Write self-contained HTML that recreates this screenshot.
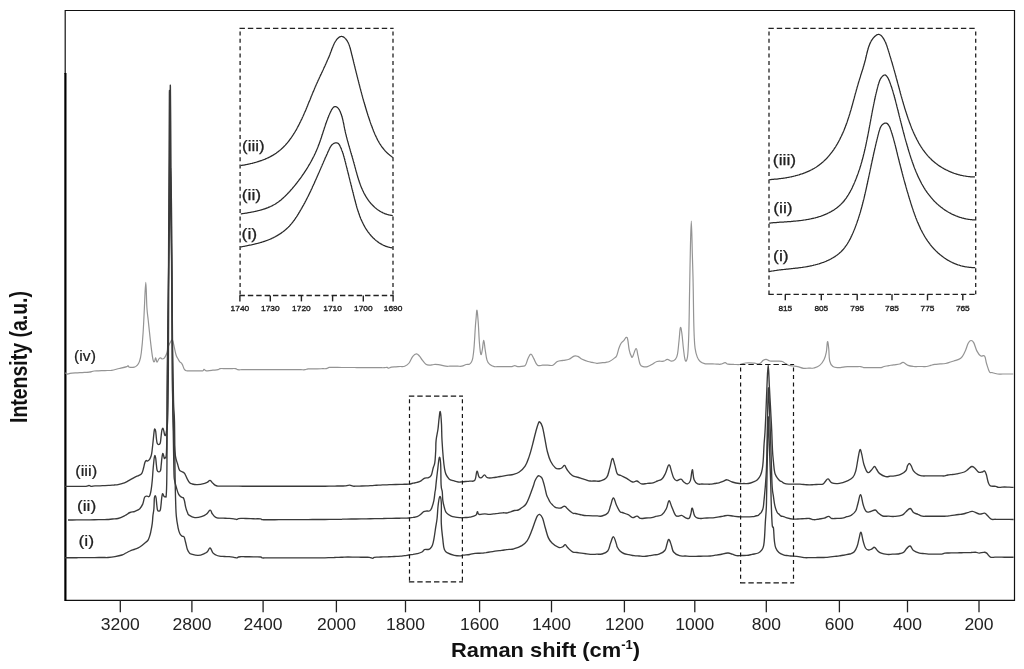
<!DOCTYPE html>
<html><head><meta charset="utf-8"><style>
html,body{margin:0;padding:0;background:#fff;width:1024px;height:669px;overflow:hidden}
svg{display:block}
svg{will-change:transform}
</style></head><body>
<svg width="1024" height="669" viewBox="0 0 1024 669">
<rect width="1024" height="669" fill="#fff"/>
<path d="M65,10.5 H1014.5 V600.4 H65" fill="none" stroke="#111" stroke-width="1.2"/>
<path d="M65.2,10 V74" stroke="#111" stroke-width="1.2"/>
<path d="M65.4,73 V601" stroke="#000" stroke-width="2.2"/>
<path d="M120.3,600 V612.3" stroke="#222" stroke-width="1.3"/>
<text x="120.3" y="629.6" text-anchor="middle" font-size="16" textLength="39.0" lengthAdjust="spacingAndGlyphs" fill="#222" font-family="Liberation Sans, sans-serif">3200</text>
<path d="M191.9,600 V612.3" stroke="#222" stroke-width="1.3"/>
<text x="191.9" y="629.6" text-anchor="middle" font-size="16" textLength="39.0" lengthAdjust="spacingAndGlyphs" fill="#222" font-family="Liberation Sans, sans-serif">2800</text>
<path d="M263.1,600 V612.3" stroke="#222" stroke-width="1.3"/>
<text x="263.1" y="629.6" text-anchor="middle" font-size="16" textLength="39.0" lengthAdjust="spacingAndGlyphs" fill="#222" font-family="Liberation Sans, sans-serif">2400</text>
<path d="M336.4,600 V612.3" stroke="#222" stroke-width="1.3"/>
<text x="336.4" y="629.6" text-anchor="middle" font-size="16" textLength="39.0" lengthAdjust="spacingAndGlyphs" fill="#222" font-family="Liberation Sans, sans-serif">2000</text>
<path d="M405.5,600 V612.3" stroke="#222" stroke-width="1.3"/>
<text x="405.5" y="629.6" text-anchor="middle" font-size="16" textLength="39.0" lengthAdjust="spacingAndGlyphs" fill="#222" font-family="Liberation Sans, sans-serif">1800</text>
<path d="M479.6,600 V612.3" stroke="#222" stroke-width="1.3"/>
<text x="479.6" y="629.6" text-anchor="middle" font-size="16" textLength="39.0" lengthAdjust="spacingAndGlyphs" fill="#222" font-family="Liberation Sans, sans-serif">1600</text>
<path d="M551.5,600 V612.3" stroke="#222" stroke-width="1.3"/>
<text x="551.5" y="629.6" text-anchor="middle" font-size="16" textLength="39.0" lengthAdjust="spacingAndGlyphs" fill="#222" font-family="Liberation Sans, sans-serif">1400</text>
<path d="M624.4,600 V612.3" stroke="#222" stroke-width="1.3"/>
<text x="624.4" y="629.6" text-anchor="middle" font-size="16" textLength="39.0" lengthAdjust="spacingAndGlyphs" fill="#222" font-family="Liberation Sans, sans-serif">1200</text>
<path d="M694.8,600 V612.3" stroke="#222" stroke-width="1.3"/>
<text x="694.8" y="629.6" text-anchor="middle" font-size="16" textLength="39.0" lengthAdjust="spacingAndGlyphs" fill="#222" font-family="Liberation Sans, sans-serif">1000</text>
<path d="M766.3,600 V612.3" stroke="#222" stroke-width="1.3"/>
<text x="766.3" y="629.6" text-anchor="middle" font-size="16" textLength="29.2" lengthAdjust="spacingAndGlyphs" fill="#222" font-family="Liberation Sans, sans-serif">800</text>
<path d="M839.4,600 V612.3" stroke="#222" stroke-width="1.3"/>
<text x="839.4" y="629.6" text-anchor="middle" font-size="16" textLength="29.2" lengthAdjust="spacingAndGlyphs" fill="#222" font-family="Liberation Sans, sans-serif">600</text>
<path d="M907.5,600 V612.3" stroke="#222" stroke-width="1.3"/>
<text x="907.5" y="629.6" text-anchor="middle" font-size="16" textLength="29.2" lengthAdjust="spacingAndGlyphs" fill="#222" font-family="Liberation Sans, sans-serif">400</text>
<path d="M979,600 V612.3" stroke="#222" stroke-width="1.3"/>
<text x="979" y="629.6" text-anchor="middle" font-size="16" textLength="29.2" lengthAdjust="spacingAndGlyphs" fill="#222" font-family="Liberation Sans, sans-serif">200</text>
<text x="451" y="656.7" font-size="20.2" font-weight="bold" fill="#111" font-family="Liberation Sans, sans-serif" textLength="189" lengthAdjust="spacingAndGlyphs">Raman shift (cm<tspan dy="-7.5" font-size="12">-1</tspan><tspan dy="7.5">)</tspan></text>
<text transform="translate(27,357) rotate(-90)" x="0" y="0" text-anchor="middle" font-size="23.5" font-weight="bold" fill="#111" textLength="132" lengthAdjust="spacingAndGlyphs" font-family="Liberation Sans, sans-serif">Intensity (a.u.)</text>
<text x="85" y="360.6" text-anchor="middle" font-size="13.9" fill="#222" stroke="#222" stroke-width="0.2" textLength="21.8" lengthAdjust="spacingAndGlyphs" font-family="Liberation Sans, sans-serif">(iv)</text>
<text x="86.2" y="475.5" text-anchor="middle" font-size="13.9" fill="#222" stroke="#222" stroke-width="0.2" textLength="22.0" lengthAdjust="spacingAndGlyphs" font-family="Liberation Sans, sans-serif">(iii)</text>
<text x="86.6" y="510.8" text-anchor="middle" font-size="13.9" fill="#222" stroke="#222" stroke-width="0.2" textLength="19.4" lengthAdjust="spacingAndGlyphs" font-family="Liberation Sans, sans-serif">(ii)</text>
<text x="86.3" y="545.9" text-anchor="middle" font-size="13.9" fill="#222" stroke="#222" stroke-width="0.2" textLength="15.8" lengthAdjust="spacingAndGlyphs" font-family="Liberation Sans, sans-serif">(i)</text>
<path d="M65.3,372.9 C65.8,373.1 66.9,374.0 67.8,374.1 C68.7,374.2 68.5,373.5 70.0,373.3 C71.5,373.1 73.3,373.0 75.3,372.9 C77.3,372.8 78.1,372.8 79.9,372.7 C81.7,372.6 82.7,372.5 84.5,372.4 C86.3,372.3 87.2,372.5 89.1,372.2 C91.0,371.9 92.2,371.3 94.1,371.0 C96.0,370.7 96.7,370.9 98.5,370.8 C100.3,370.8 101.1,370.7 102.9,370.6 C104.7,370.6 105.5,370.5 107.3,370.5 C109.1,370.4 109.3,370.7 111.7,370.3 C114.1,369.9 116.3,369.2 119.3,368.5 C122.3,367.8 125.1,367.2 126.8,366.6 C128.5,366.0 127.5,365.5 128.0,365.6 C128.5,365.7 128.0,366.9 129.3,367.2 C130.6,367.5 132.8,367.5 134.3,367.2 C135.8,366.9 136.0,366.6 137.0,365.5 C138.0,364.4 138.5,364.1 139.4,361.6 C140.3,359.1 140.6,358.6 141.3,352.8 C142.0,347.0 142.5,341.8 143.1,332.7 C143.7,323.6 143.9,317.6 144.4,307.5 C144.9,297.4 145.3,282.4 145.8,282.4 C146.3,282.4 146.4,300.0 146.9,307.5 C147.4,315.0 147.7,315.2 148.2,320.0 C148.7,324.8 148.7,324.8 149.4,331.4 C150.1,338.0 151.1,347.0 151.9,352.8 C152.7,358.6 152.7,358.5 153.2,360.3 C153.7,362.1 154.0,362.1 154.5,361.6 C155.0,361.1 155.2,357.7 155.7,357.8 C156.2,357.9 156.4,362.0 157.0,362.2 C157.6,362.4 158.1,359.9 158.8,359.0 C159.5,358.1 160.1,357.8 160.7,357.8 C161.3,357.8 161.2,359.0 162.0,359.0 C162.8,359.0 163.5,359.0 164.5,357.8 C165.5,356.6 166.2,355.1 167.0,352.8 C167.8,350.5 167.5,348.8 168.3,346.5 C169.1,344.2 170.0,342.8 170.8,341.5 C171.6,340.2 171.7,339.6 172.2,339.8 C172.7,340.0 172.6,339.9 173.3,342.7 C174.0,345.5 175.0,350.9 175.8,354.0 C176.6,357.1 176.7,356.5 177.5,358.0 C178.3,359.5 178.7,360.4 179.6,361.6 C180.5,362.8 181.1,362.5 182.1,364.1 C183.1,365.7 183.6,368.4 184.6,369.7 C185.6,371.0 185.7,370.6 187.2,370.8 C188.7,371.0 190.3,370.8 192.3,370.8 C194.4,370.8 195.4,370.8 197.5,370.8 C199.5,370.8 201.3,371.1 202.6,370.8 C203.9,370.5 203.4,369.4 204.0,369.3 C204.6,369.2 204.8,370.2 205.5,370.5 C206.2,370.8 206.2,370.9 207.7,370.8 C209.2,370.8 210.8,370.5 212.8,370.2 C214.9,370.0 216.5,370.0 218.0,369.7 C219.5,369.4 218.7,368.8 220.2,368.6 C221.7,368.4 223.3,368.6 225.3,368.6 C227.3,368.6 228.4,368.6 230.4,368.6 C232.4,368.6 234.0,368.4 235.5,368.6 C237.0,368.8 236.4,369.5 237.7,369.7 C239.0,369.9 240.2,369.7 241.9,369.7 C243.6,369.7 244.4,369.7 246.1,369.7 C247.8,369.7 248.7,369.7 250.3,369.7 C252.0,369.7 252.9,369.7 254.6,369.7 C256.2,369.7 257.1,369.7 258.8,369.7 C260.4,369.7 261.3,369.7 263.0,369.7 C264.7,369.7 265.5,369.7 267.2,369.7 C268.9,369.7 269.7,369.7 271.4,369.7 C273.1,369.7 273.9,369.7 275.6,369.7 C277.3,369.7 278.1,369.7 279.8,369.7 C281.5,369.7 282.4,369.7 284.0,369.7 C285.7,369.7 286.6,369.7 288.2,369.7 C289.9,369.7 290.8,369.7 292.5,369.7 C294.1,369.7 295.0,369.7 296.7,369.7 C298.4,369.7 299.2,369.7 300.9,369.7 C302.6,369.7 303.7,369.9 305.1,369.7 C306.5,369.5 306.5,369.1 308.0,368.9 C309.5,368.7 310.7,368.9 312.6,368.8 C314.4,368.8 315.3,368.8 317.1,368.8 C319.0,368.7 319.9,368.7 321.7,368.7 C323.6,368.6 324.8,368.9 326.3,368.6 C327.8,368.3 327.9,367.6 329.3,367.4 C330.7,367.2 331.8,367.4 333.5,367.4 C335.2,367.4 336.1,367.4 337.7,367.4 C339.4,367.5 340.3,367.5 342.0,367.5 C343.7,367.5 344.5,367.5 346.2,367.5 C347.9,367.5 348.7,367.5 350.4,367.5 C352.1,367.5 352.9,367.5 354.6,367.5 C356.3,367.5 357.2,367.6 358.9,367.6 C360.6,367.6 361.4,367.6 363.1,367.6 C364.8,367.6 365.6,367.6 367.3,367.6 C369.0,367.6 369.8,367.6 371.5,367.6 C373.2,367.6 374.1,367.6 375.8,367.7 C377.4,367.7 378.3,367.7 380.0,367.7 C381.7,367.7 382.8,367.8 384.2,367.7 C385.6,367.6 386.2,367.3 387.1,367.4 C388.0,367.5 387.7,368.2 388.6,368.1 C389.5,368.0 390.0,367.4 391.5,367.1 C393.0,366.8 394.1,366.9 395.9,366.8 C397.7,366.7 398.5,366.6 400.3,366.5 C402.1,366.4 402.9,366.9 404.7,366.2 C406.5,365.5 407.5,365.0 409.1,363.0 C410.7,361.0 411.3,358.2 412.8,356.4 C414.3,354.6 415.1,354.0 416.4,353.9 C417.7,353.8 418.2,354.8 419.4,356.0 C420.6,357.2 421.0,358.5 422.3,360.1 C423.6,361.7 424.4,363.2 425.9,364.2 C427.4,365.2 428.0,365.1 429.6,365.2 C431.2,365.3 432.2,364.6 434.0,364.5 C435.8,364.4 436.1,364.4 438.4,364.7 C440.7,365.0 443.4,365.9 445.7,366.2 C448.0,366.5 448.1,366.2 449.7,366.2 C451.3,366.2 452.1,366.2 453.8,366.2 C455.4,366.2 456.2,366.2 457.8,366.2 C459.4,366.2 460.1,366.5 461.8,366.2 C463.5,365.9 464.7,364.9 466.2,364.5 C467.7,364.1 468.4,364.6 469.4,364.2 C470.4,363.8 470.6,363.6 471.3,362.3 C472.0,361.0 472.3,360.8 472.8,357.9 C473.3,355.0 473.5,354.0 474.0,348.0 C474.5,342.0 474.9,333.8 475.3,327.8 C475.7,321.8 475.8,321.5 476.1,318.0 C476.4,314.5 476.6,309.5 477.0,310.3 C477.4,311.1 477.7,315.6 478.2,322.0 C478.7,328.4 478.9,336.1 479.4,342.5 C479.9,348.9 480.2,352.7 480.8,354.2 C481.4,355.7 481.7,352.6 482.3,349.8 C482.9,347.0 483.1,340.3 483.7,340.3 C484.3,340.3 484.5,345.8 485.2,349.8 C485.9,353.8 486.1,357.2 487.0,360.1 C487.9,363.0 488.4,363.2 489.9,364.5 C491.4,365.8 492.5,366.2 494.3,366.6 C496.1,367.0 496.9,366.6 498.7,366.6 C500.5,366.6 501.3,366.6 503.1,366.6 C504.9,366.6 505.7,366.6 507.5,366.6 C509.3,366.6 510.4,366.8 511.9,366.6 C513.4,366.4 513.6,365.6 514.8,365.6 C516.0,365.6 515.9,366.5 517.7,366.6 C519.5,366.7 522.0,366.6 523.6,366.2 C525.2,365.8 524.9,366.0 525.8,364.5 C526.7,363.0 527.0,360.7 528.0,358.6 C529.0,356.5 529.7,354.2 530.9,354.2 C532.1,354.2 532.5,356.4 533.8,358.6 C535.1,360.8 535.7,363.9 537.5,365.2 C539.3,366.5 540.6,365.2 542.6,365.2 C544.7,365.2 545.7,365.2 547.8,365.2 C549.8,365.2 551.0,365.9 552.9,365.2 C554.8,364.5 555.3,362.5 557.3,361.5 C559.3,360.5 560.8,360.7 563.1,360.3 C565.4,359.9 566.8,360.1 569.0,359.3 C571.2,358.5 572.3,356.7 574.1,356.1 C575.9,355.5 576.2,355.8 577.8,356.4 C579.4,357.0 580.2,358.3 582.2,359.3 C584.2,360.3 586.0,360.9 588.0,361.5 C590.0,362.1 590.6,362.0 592.4,362.4 C594.2,362.8 594.7,363.2 596.8,363.3 C598.9,363.4 600.9,362.9 602.7,362.7 C604.5,362.5 604.7,362.5 606.0,362.3 C607.3,362.1 607.8,362.2 609.4,361.5 C611.0,360.8 612.3,359.8 613.8,358.6 C615.3,357.4 615.7,357.8 616.7,355.7 C617.7,353.6 618.0,350.8 618.9,348.3 C619.8,345.8 620.1,344.8 621.1,343.2 C622.1,341.6 623.0,341.5 624.0,340.3 C625.0,339.1 625.5,337.6 626.2,337.4 C626.9,337.2 627.1,337.0 627.7,339.5 C628.3,342.0 628.5,346.4 629.2,349.8 C629.9,353.2 630.7,355.1 631.4,356.4 C632.1,357.7 631.9,358.0 632.8,356.4 C633.7,354.8 635.1,348.7 636.1,348.6 C637.1,348.5 637.2,352.5 638.0,355.7 C638.8,358.9 639.2,362.3 640.2,364.5 C641.2,366.7 641.6,366.2 643.1,366.6 C644.6,367.0 645.7,367.0 647.5,366.6 C649.3,366.2 650.0,365.5 651.9,364.5 C653.8,363.5 654.7,362.2 657.0,361.5 C659.3,360.8 661.5,361.6 663.6,361.2 C665.7,360.8 665.7,359.3 667.3,359.3 C668.9,359.3 670.0,361.2 671.6,361.2 C673.2,361.2 674.1,360.7 675.3,359.3 C676.5,357.9 676.8,357.9 677.5,354.2 C678.2,350.5 678.4,346.3 679.0,341.0 C679.6,335.7 679.8,329.3 680.4,327.8 C681.0,326.3 681.3,329.6 681.9,333.7 C682.5,337.8 682.8,343.3 683.4,348.3 C684.0,353.3 684.2,356.1 684.8,358.6 C685.4,361.1 685.7,361.7 686.3,360.8 C686.9,359.9 687.3,359.6 687.8,354.2 C688.3,348.8 688.4,346.5 688.8,333.7 C689.2,320.9 689.3,306.1 689.6,290.0 C689.9,273.9 690.0,266.8 690.3,253.0 C690.6,239.2 690.9,221.0 691.3,221.0 C691.7,221.0 692.0,241.8 692.3,253.0 C692.6,264.2 692.7,264.8 693.0,277.0 C693.3,289.2 693.4,302.2 693.6,314.0 C693.8,325.8 693.9,329.1 694.2,336.0 C694.5,342.9 694.5,344.1 695.1,348.3 C695.7,352.5 696.3,354.5 697.3,357.1 C698.3,359.7 698.7,360.2 700.2,361.5 C701.7,362.8 702.9,363.2 704.6,363.7 C706.3,364.2 707.0,363.8 708.6,363.8 C710.2,363.9 711.0,363.9 712.7,363.9 C714.3,364.0 715.1,364.0 716.7,364.1 C718.3,364.1 719.0,364.5 720.7,364.2 C722.4,363.9 723.6,362.7 725.1,362.7 C726.6,362.7 726.2,363.9 728.0,364.2 C729.8,364.5 731.5,364.3 733.9,364.4 C736.3,364.4 737.5,364.8 739.8,364.5 C742.1,364.2 743.7,363.3 745.6,363.0 C747.5,362.7 747.6,362.8 749.4,362.8 C751.2,362.8 752.5,363.0 754.5,363.2 C756.5,363.4 757.8,364.2 759.6,363.6 C761.4,363.0 762.0,361.2 763.3,360.3 C764.6,359.4 764.9,359.2 766.2,359.3 C767.5,359.4 768.0,360.6 769.9,361.0 C771.8,361.4 773.4,361.1 775.8,361.1 C778.1,361.2 779.6,360.8 781.6,361.3 C783.6,361.9 784.5,363.1 786.0,363.9 C787.5,364.7 787.4,365.0 788.9,365.4 C790.4,365.8 791.5,365.8 793.3,366.0 C795.1,366.2 795.6,366.1 797.7,366.6 C799.8,367.1 801.4,368.0 803.6,368.3 C805.8,368.6 806.7,368.2 808.7,368.1 C810.7,368.1 811.6,368.6 813.8,368.0 C816.0,367.4 817.6,367.1 819.7,365.4 C821.8,363.7 822.8,362.1 824.1,359.5 C825.4,356.9 825.6,355.8 826.3,352.2 C827.0,348.6 827.0,342.3 827.5,341.7 C828.0,341.1 828.4,345.4 828.8,349.3 C829.2,353.2 828.9,357.5 829.7,361.0 C830.5,364.5 831.1,365.3 832.9,366.6 C834.7,367.9 836.7,367.5 838.7,367.6 C840.7,367.7 841.3,367.3 843.1,367.1 C844.9,366.9 845.7,366.7 847.5,366.6 C849.3,366.5 850.1,366.6 851.9,366.6 C853.7,366.6 854.5,366.6 856.3,366.6 C858.1,366.6 859.2,366.4 860.7,366.6 C862.2,366.8 862.1,367.4 863.6,367.6 C865.1,367.8 866.2,367.6 868.0,367.6 C869.8,367.6 870.6,367.6 872.4,367.6 C874.2,367.6 875.0,367.6 876.8,367.6 C878.6,367.6 879.7,367.8 881.2,367.6 C882.7,367.4 882.6,366.9 884.1,366.5 C885.6,366.1 887.0,366.0 888.9,365.6 C890.8,365.3 891.5,365.1 893.7,364.8 C895.9,364.5 897.9,364.5 899.8,364.0 C901.7,363.5 901.6,362.1 903.2,362.4 C904.8,362.7 905.9,364.6 908.0,365.4 C910.1,366.2 911.5,366.3 913.5,366.5 C915.5,366.7 916.1,366.5 917.8,366.5 C919.6,366.5 920.4,366.5 922.2,366.5 C923.9,366.5 924.8,366.7 926.5,366.5 C928.2,366.3 929.0,365.9 930.6,365.4 C932.2,365.0 932.8,364.7 934.7,364.4 C936.6,364.1 938.0,364.1 940.2,363.9 C942.3,363.8 943.7,363.8 945.6,363.5 C947.5,363.2 948.1,362.8 949.7,362.2 C951.3,361.8 951.6,361.8 953.8,361.0 C956.0,360.2 958.5,360.1 960.7,358.3 C962.9,356.5 963.3,355.1 964.8,352.1 C966.3,349.1 967.0,345.5 968.2,343.2 C969.4,340.9 969.8,340.6 970.9,340.5 C972.0,340.4 972.5,340.4 973.7,342.6 C974.9,344.8 975.7,348.8 977.1,351.4 C978.5,354.0 979.0,354.8 980.5,355.8 C982.0,356.8 983.4,354.6 984.6,356.2 C985.8,357.8 985.6,360.7 986.6,363.8 C987.6,366.9 988.3,369.9 989.4,371.7 C990.5,373.5 990.5,372.1 992.1,372.6 C993.7,373.1 995.5,373.7 997.6,374.0 C999.7,374.3 1000.7,374.0 1002.8,374.0 C1004.9,374.0 1006.0,374.0 1008.1,374.0 C1010.2,374.0 1012.3,374.0 1013.3,374.0" fill="none" stroke="#949494" stroke-width="1.2" stroke-linejoin="round"/>
<path d="M65.0,557.7 C65.8,557.7 67.5,557.7 69.2,557.7 C70.8,557.7 71.7,557.7 73.3,557.7 C75.0,557.7 75.8,557.7 77.5,557.7 C79.2,557.6 80.0,557.6 81.7,557.6 C83.3,557.6 84.2,557.6 85.8,557.6 C87.5,557.6 88.3,557.6 90.0,557.6 C91.7,557.6 92.7,557.6 94.5,557.6 C96.3,557.6 97.2,557.6 99.0,557.5 C100.8,557.5 101.7,557.5 103.5,557.5 C105.3,557.5 105.7,557.7 108.0,557.5 C110.3,557.3 112.2,557.1 115.0,556.6 C117.8,556.1 119.8,555.7 122.0,555.0 C124.2,554.3 124.4,553.8 126.0,553.0 C127.6,552.2 128.2,551.8 130.0,551.0 C131.8,550.2 133.0,549.9 135.0,549.1 C137.0,548.3 137.6,548.4 139.8,547.0 C142.0,545.6 144.1,543.6 145.8,542.2 C147.5,540.8 147.4,541.2 148.2,539.8 C149.0,538.4 149.4,536.9 150.0,535.0 C150.6,533.1 150.6,532.6 151.1,530.2 C151.6,527.8 151.9,526.0 152.3,523.1 C152.7,520.2 152.6,518.8 152.9,515.9 C153.2,513.0 153.6,512.3 153.9,508.7 C154.2,505.1 154.1,500.5 154.4,497.9 C154.7,495.3 155.0,495.6 155.3,495.6 C155.6,495.6 155.8,496.1 156.1,498.0 C156.4,499.9 156.5,502.6 156.8,505.0 C157.1,507.4 157.1,508.8 157.5,510.0 C157.9,511.2 158.3,511.1 158.9,511.1 C159.5,511.1 159.9,511.2 160.3,510.0 C160.7,508.8 160.7,507.4 161.0,505.0 C161.3,502.6 161.4,500.1 161.7,498.0 C162.0,495.9 162.1,495.3 162.3,494.5 C162.5,493.7 162.5,493.6 162.8,493.8 C163.1,494.0 163.3,494.9 163.6,495.5 C163.9,496.1 163.9,496.5 164.3,496.7 C164.7,496.9 165.1,497.0 165.5,496.5 C165.9,496.0 166.0,499.3 166.3,494.0 C166.6,488.7 166.7,490.2 166.9,470.0 C167.1,449.8 166.9,432.8 167.2,393.0 C167.5,353.2 167.9,316.0 168.6,271.0 C169.3,226.0 170.1,168.0 170.8,168.0 C171.5,168.0 171.7,236.6 172.0,271.0 C172.3,305.4 172.2,314.2 172.5,340.0 C172.8,365.8 173.1,383.6 173.5,400.0 C173.9,416.4 174.2,408.0 174.5,422.0 C174.8,436.0 174.8,454.4 175.0,470.0 C175.2,485.6 175.3,490.8 175.6,500.0 C175.9,509.2 175.8,510.3 176.3,515.9 C176.8,521.5 177.4,524.2 178.1,527.8 C178.8,531.4 179.1,532.1 179.9,533.8 C180.7,535.5 181.4,535.6 182.2,536.2 C183.0,536.8 183.4,535.8 184.1,537.0 C184.8,538.2 184.8,539.5 185.5,542.0 C186.2,544.5 186.6,547.4 187.4,549.6 C188.2,551.8 188.7,552.1 189.5,553.0 C190.3,553.9 189.8,553.6 191.5,554.1 C193.2,554.6 195.5,555.5 198.1,555.4 C200.7,555.3 202.8,554.2 204.7,553.4 C206.6,552.6 206.4,552.6 207.5,551.5 C208.6,550.4 209.0,547.7 210.1,548.0 C211.2,548.3 211.7,551.5 212.9,552.9 C214.1,554.3 214.7,554.3 216.0,555.0 C217.3,555.7 217.8,555.9 219.5,556.2 C221.2,556.5 222.4,556.4 224.4,556.5 C226.4,556.6 227.4,556.5 229.3,556.7 C231.2,556.9 232.5,557.1 234.0,557.3 C235.5,557.5 235.8,558.0 236.7,557.9 C237.6,557.8 237.7,557.2 238.5,557.0 C239.3,556.8 239.6,556.8 240.9,556.7 C242.2,556.6 243.4,556.7 245.0,556.7 C246.6,556.7 247.1,556.7 249.1,556.7 C251.1,556.7 252.6,556.8 254.9,556.9 C257.2,556.9 259.1,556.8 260.6,557.0 C262.1,557.2 261.0,557.7 262.2,557.9 C263.4,558.1 264.7,557.9 266.4,557.9 C268.1,557.9 268.9,557.9 270.6,557.9 C272.2,557.9 273.1,557.9 274.8,557.9 C276.4,557.9 277.3,557.9 278.9,557.9 C280.6,557.9 281.5,557.9 283.1,557.9 C284.8,557.9 285.6,557.9 287.3,557.9 C289.0,557.9 289.8,557.9 291.5,557.9 C293.2,557.9 294.0,557.8 295.7,557.8 C297.4,557.8 298.2,557.8 299.9,557.8 C301.6,557.8 302.4,557.8 304.1,557.8 C305.7,557.8 306.6,557.8 308.3,557.8 C309.9,557.8 310.8,557.8 312.4,557.8 C314.1,557.8 315.0,557.8 316.6,557.8 C318.3,557.8 319.1,557.8 320.8,557.8 C322.5,557.8 323.2,557.8 325.0,557.8 C326.8,557.8 327.8,557.7 329.6,557.6 C331.4,557.6 332.4,557.5 334.2,557.5 C336.0,557.4 337.0,557.4 338.8,557.3 C340.6,557.3 341.6,557.2 343.4,557.2 C345.2,557.1 346.2,557.0 348.0,557.0 C349.8,557.0 350.6,557.0 352.3,557.1 C354.0,557.1 354.8,557.1 356.6,557.1 C358.3,557.1 359.1,557.2 360.8,557.2 C362.6,557.2 363.4,557.2 365.1,557.2 C366.8,557.3 367.9,557.1 369.4,557.3 C370.9,557.5 371.7,558.3 372.7,558.3 C373.7,558.3 373.1,557.5 374.3,557.3 C375.5,557.1 376.9,557.2 378.7,557.1 C380.5,557.0 381.3,557.0 383.1,556.9 C384.9,556.9 385.7,556.8 387.5,556.8 C389.3,556.7 390.1,556.6 391.9,556.6 C393.7,556.5 394.5,556.5 396.3,556.4 C398.1,556.3 399.0,556.4 400.7,556.2 C402.4,556.0 403.2,555.8 404.8,555.6 C406.4,555.4 407.3,555.2 408.9,555.0 C410.5,554.8 411.4,554.6 413.0,554.4 C414.6,554.1 415.3,554.2 417.1,553.7 C418.9,553.2 420.5,552.8 422.0,552.0 C423.5,551.2 423.3,550.1 424.5,549.6 C425.7,549.1 427.0,549.7 428.2,549.5 C429.4,549.3 429.5,549.3 430.3,548.5 C431.1,547.7 431.7,547.2 432.4,545.3 C433.1,543.4 433.3,542.4 433.9,539.1 C434.5,535.8 434.9,532.8 435.5,528.6 C436.1,524.4 436.6,522.8 437.1,518.2 C437.6,513.6 437.6,509.9 438.1,505.6 C438.6,501.3 439.1,497.3 439.7,496.7 C440.3,496.1 441.0,497.2 441.3,502.5 C441.6,507.8 441.0,516.1 441.3,523.4 C441.6,530.7 442.2,533.9 442.8,539.1 C443.4,544.3 443.3,546.7 444.4,549.5 C445.5,552.3 446.1,552.0 448.1,553.2 C450.1,554.4 451.9,554.8 454.3,555.3 C456.7,555.8 458.2,555.8 460.0,555.8 C461.8,555.8 461.3,555.5 463.2,555.2 C465.1,554.9 467.3,554.9 469.7,554.5 C472.1,554.1 472.6,553.7 475.0,553.4 C477.4,553.1 479.5,553.4 481.7,553.2 C483.9,553.0 484.3,552.8 486.1,552.6 C487.9,552.3 488.7,552.2 490.5,551.9 C492.3,551.6 493.1,551.5 494.9,551.2 C496.7,551.0 497.4,550.9 499.3,550.6 C501.2,550.4 502.2,550.2 504.2,550.0 C506.1,549.8 507.1,549.6 509.0,549.4 C511.0,549.2 511.4,549.5 513.9,548.8 C516.4,548.1 518.7,547.5 521.3,545.9 C523.9,544.3 525.1,543.7 527.1,540.8 C529.1,537.9 529.9,535.3 531.5,531.3 C533.1,527.3 534.0,524.1 535.2,521.0 C536.4,517.9 536.5,517.2 537.4,515.9 C538.3,514.6 538.6,514.0 539.6,514.4 C540.6,514.8 541.3,515.3 542.5,518.1 C543.7,520.9 544.2,524.3 545.4,528.3 C546.6,532.3 547.1,535.0 548.4,537.9 C549.7,540.8 550.0,541.1 552.0,543.0 C554.0,544.9 556.4,546.7 558.6,547.4 C560.8,548.1 561.7,547.1 563.0,546.6 C564.3,546.1 564.2,544.4 565.2,544.7 C566.2,545.0 566.6,546.7 568.1,548.1 C569.6,549.5 570.7,550.9 572.5,551.8 C574.3,552.7 575.1,552.2 576.9,552.5 C578.7,552.8 579.4,552.9 581.3,553.2 C583.2,553.5 584.4,553.6 586.5,553.8 C588.5,554.0 589.6,554.3 591.6,554.4 C593.6,554.5 594.7,554.3 596.7,554.2 C598.7,554.1 599.6,554.6 601.8,554.0 C604.0,553.4 605.9,553.2 607.7,551.0 C609.5,548.8 609.4,545.8 610.6,543.0 C611.8,540.2 612.3,536.5 613.5,536.8 C614.7,537.1 615.8,542.4 616.5,544.4 C617.2,546.4 616.5,545.6 617.2,546.9 C617.9,548.2 618.7,549.7 620.0,551.0 C621.3,552.3 622.0,552.8 623.8,553.5 C625.6,554.2 626.9,554.2 628.9,554.6 C630.9,555.0 632.0,555.4 634.0,555.7 C636.0,556.0 637.1,555.9 639.1,556.0 C641.2,556.2 642.3,556.5 644.3,556.4 C646.3,556.3 647.2,556.0 649.2,555.7 C651.1,555.4 652.1,555.2 654.0,554.9 C656.0,554.6 656.7,555.1 658.9,554.2 C661.1,553.3 663.2,552.6 664.8,550.5 C666.4,548.4 666.2,546.1 667.0,543.9 C667.8,541.7 668.0,539.2 668.9,539.5 C669.8,539.8 670.5,542.9 671.4,545.4 C672.3,547.9 672.0,549.9 673.6,552.0 C675.2,554.1 677.1,554.9 679.5,555.7 C681.9,556.5 683.0,555.9 685.4,556.0 C687.7,556.2 689.1,556.4 691.2,556.4 C693.3,556.4 694.1,556.3 696.0,556.3 C697.9,556.3 698.8,556.2 700.7,556.2 C702.6,556.2 703.6,556.1 705.5,556.1 C707.4,556.1 708.2,556.2 710.2,556.0 C712.2,555.8 713.3,555.5 715.4,555.2 C717.4,555.0 718.0,555.0 720.5,554.5 C723.0,554.0 725.5,553.1 727.8,553.0 C730.1,552.9 730.4,553.7 732.2,554.2 C734.0,554.7 734.7,555.4 736.6,555.7 C738.5,556.0 739.7,555.6 741.7,555.5 C743.7,555.5 744.7,555.6 746.8,555.4 C748.9,555.2 749.7,554.9 752.0,554.4 C754.3,553.9 756.3,553.9 758.3,553.0 C760.3,552.1 760.8,551.4 761.9,549.9 C763.0,548.4 763.2,548.1 763.7,545.4 C764.2,542.7 764.3,540.9 764.6,536.4 C764.9,531.9 765.0,528.3 765.3,523.0 C765.6,517.7 765.9,515.4 766.2,510.0 C766.5,504.6 766.4,506.0 766.6,496.0 C766.8,486.0 767.0,475.8 767.3,460.0 C767.6,444.2 767.9,419.0 768.3,417.0 C768.7,415.0 769.0,437.4 769.5,450.0 C770.0,462.6 770.2,469.0 770.6,480.0 C771.0,491.0 771.0,496.1 771.3,505.0 C771.6,513.9 771.8,520.0 772.2,524.7 C772.6,529.4 773.1,525.1 773.5,528.3 C773.9,531.5 773.9,536.9 774.4,540.9 C774.9,544.9 774.9,545.8 775.8,548.1 C776.7,550.4 777.4,551.3 778.9,552.6 C780.4,553.9 781.6,554.2 783.4,554.8 C785.2,555.4 786.1,555.4 788.0,555.7 C789.9,556.0 790.7,555.9 793.1,556.1 C795.5,556.3 797.6,556.5 800.0,556.8 C802.4,557.1 803.2,557.5 805.0,557.7 C806.8,557.9 807.5,557.7 809.2,557.6 C810.9,557.6 811.7,557.6 813.4,557.6 C815.0,557.6 815.9,557.5 817.5,557.5 C819.2,557.5 820.0,557.5 821.7,557.5 C823.4,557.4 824.2,557.5 825.9,557.4 C827.6,557.3 828.6,557.1 830.4,556.9 C832.2,556.7 833.0,556.6 834.8,556.4 C836.6,556.2 837.4,556.2 839.3,555.9 C841.2,555.6 842.4,555.3 844.5,555.0 C846.6,554.6 847.8,554.6 849.8,554.0 C851.8,553.4 852.8,553.3 854.3,551.7 C855.8,550.1 856.3,548.5 857.3,545.8 C858.3,543.1 858.4,541.0 859.1,538.3 C859.8,535.6 860.2,531.7 861.0,532.3 C861.8,532.9 862.3,538.2 863.2,541.3 C864.1,544.4 864.4,546.3 865.5,548.0 C866.6,549.7 867.3,549.8 868.5,550.0 C869.7,550.2 870.3,549.6 871.5,549.1 C872.7,548.6 873.3,547.0 874.5,547.3 C875.7,547.6 876.1,549.4 877.4,550.6 C878.7,551.8 879.2,552.4 881.2,553.2 C883.2,554.0 885.0,554.2 887.2,554.4 C889.4,554.6 890.3,554.3 892.4,554.2 C894.5,554.1 896.1,554.1 897.6,554.0 C899.1,553.9 898.8,553.8 900.0,553.5 C901.2,553.2 902.4,553.3 903.7,552.3 C905.0,551.3 905.4,549.9 906.7,548.6 C908.0,547.3 908.8,545.6 910.2,546.0 C911.6,546.4 911.7,549.1 913.5,550.5 C915.3,551.9 917.2,552.5 919.4,553.1 C921.6,553.7 922.5,553.4 924.6,553.6 C926.8,553.8 928.0,554.0 929.9,554.1 C931.8,554.2 932.3,554.1 933.9,554.1 C935.5,554.1 936.3,554.1 937.9,554.1 C939.5,554.1 940.5,554.3 941.9,554.1 C943.3,553.9 943.4,553.3 944.8,553.1 C946.2,552.9 947.3,553.0 949.0,553.0 C950.7,553.0 951.5,552.9 953.2,552.9 C954.9,552.9 955.7,552.8 957.4,552.8 C959.1,552.8 959.9,552.7 961.6,552.7 C963.3,552.7 963.9,552.6 965.8,552.6 C967.7,552.6 968.9,552.5 971.0,552.5 C973.1,552.4 974.6,552.2 976.2,552.3 C977.8,552.4 977.7,553.1 979.2,553.1 C980.7,553.1 982.2,552.3 983.7,552.3 C985.2,552.3 985.4,552.1 986.7,553.1 C988.0,554.1 988.7,556.3 990.4,557.1 C992.1,557.9 993.2,557.1 995.0,557.1 C996.9,557.1 997.8,557.1 999.7,557.1 C1001.5,557.1 1002.5,557.2 1004.3,557.2 C1006.2,557.2 1007.1,557.2 1009.0,557.2 C1010.8,557.2 1012.7,557.2 1013.6,557.2" fill="none" stroke="#3a3a3a" stroke-width="1.35" stroke-linejoin="round"/>
<path d="M68.0,520.0 C68.9,520.0 70.6,520.0 72.4,520.0 C74.2,519.9 75.0,519.9 76.8,519.9 C78.6,519.9 79.4,519.9 81.2,519.9 C83.0,519.9 83.8,519.9 85.6,519.8 C87.4,519.8 88.3,519.8 90.0,519.8 C91.7,519.8 92.5,519.8 94.2,519.7 C96.0,519.7 96.8,519.7 98.5,519.6 C100.2,519.6 101.0,519.6 102.8,519.6 C104.5,519.5 105.0,519.6 107.0,519.5 C109.0,519.4 110.3,519.2 112.5,519.0 C114.7,518.8 115.5,519.2 118.0,518.5 C120.5,517.8 122.6,516.7 125.0,515.5 C127.4,514.3 128.0,513.3 130.0,512.5 C132.0,511.7 133.0,512.1 135.0,511.3 C137.0,510.5 138.2,510.2 139.8,508.7 C141.4,507.2 141.8,506.2 142.8,503.9 C143.8,501.6 143.8,498.9 144.6,497.3 C145.4,495.7 146.2,496.2 147.0,496.1 C147.8,496.0 148.2,496.9 148.8,496.7 C149.4,496.5 149.5,496.3 150.0,495.0 C150.5,493.7 150.6,493.2 151.1,490.2 C151.6,487.2 151.9,484.4 152.3,480.0 C152.7,475.6 152.8,472.4 153.2,468.0 C153.6,463.6 153.9,460.5 154.2,458.0 C154.5,455.5 154.6,455.5 154.9,455.5 C155.2,455.5 155.4,456.1 155.7,458.0 C156.0,459.9 156.1,462.5 156.4,465.0 C156.7,467.5 156.7,469.1 157.2,470.5 C157.7,471.9 158.2,471.8 158.9,471.8 C159.6,471.8 160.0,471.9 160.5,470.5 C161.0,469.1 160.9,467.5 161.2,465.0 C161.5,462.5 161.6,460.1 161.9,458.0 C162.2,455.9 162.3,455.4 162.5,454.5 C162.7,453.6 162.7,453.2 162.9,453.4 C163.1,453.6 163.3,454.5 163.6,455.5 C163.9,456.5 164.0,458.0 164.3,458.4 C164.6,458.8 164.8,458.0 165.2,457.5 C165.6,457.0 165.9,459.5 166.2,456.0 C166.5,452.5 166.6,452.6 166.8,440.0 C167.0,427.4 166.9,426.8 167.2,393.0 C167.5,359.2 168.1,331.2 168.5,271.0 C168.9,210.8 169.0,106.2 169.4,92.0 C169.8,77.8 170.0,164.2 170.5,200.0 C171.0,235.8 171.4,235.0 171.8,271.0 C172.2,307.0 172.2,348.2 172.5,380.0 C172.8,411.8 172.9,412.0 173.2,430.0 C173.5,448.0 173.6,460.0 173.9,470.0 C174.2,480.0 174.0,476.6 174.5,480.0 C175.0,483.4 175.5,484.3 176.3,487.2 C177.1,490.1 177.6,492.4 178.7,494.4 C179.8,496.4 180.8,496.6 181.7,497.3 C182.6,498.0 182.7,497.1 183.3,497.8 C183.9,498.5 184.0,499.0 184.5,501.0 C185.0,503.0 185.2,505.4 185.8,507.7 C186.4,510.0 186.9,511.0 187.5,512.5 C188.1,514.0 187.5,514.1 189.0,515.1 C190.5,516.1 192.3,517.3 194.8,517.6 C197.3,517.9 199.1,517.4 201.4,516.7 C203.7,516.0 204.6,515.6 206.3,514.3 C208.0,513.0 208.9,510.4 210.1,510.2 C211.3,510.0 211.2,512.2 212.1,513.5 C213.0,514.8 213.5,515.6 214.5,516.5 C215.5,517.4 215.7,517.6 217.0,517.9 C218.3,518.2 219.5,518.0 221.1,518.1 C222.7,518.1 223.6,518.2 225.2,518.2 C226.8,518.3 227.5,518.3 229.3,518.4 C231.1,518.5 232.5,518.6 234.0,518.8 C235.5,519.0 235.8,519.5 236.7,519.5 C237.6,519.5 237.7,518.8 238.5,518.6 C239.3,518.4 239.4,518.4 240.9,518.4 C242.4,518.4 243.9,518.5 245.8,518.5 C247.8,518.6 248.8,518.6 250.8,518.6 C252.7,518.7 253.7,518.7 255.7,518.8 C257.6,518.8 259.3,518.7 260.6,518.9 C261.9,519.1 261.0,519.5 262.2,519.7 C263.4,519.9 264.7,519.7 266.4,519.7 C268.1,519.7 268.9,519.7 270.6,519.7 C272.2,519.7 273.1,519.7 274.8,519.7 C276.4,519.7 277.3,519.7 278.9,519.6 C280.6,519.6 281.5,519.6 283.1,519.6 C284.8,519.6 285.6,519.6 287.3,519.6 C289.0,519.6 289.8,519.6 291.5,519.6 C293.2,519.6 294.0,519.6 295.7,519.6 C297.4,519.6 298.2,519.6 299.9,519.6 C301.6,519.6 302.4,519.6 304.1,519.6 C305.7,519.6 306.6,519.6 308.3,519.6 C309.9,519.5 310.8,519.5 312.4,519.5 C314.1,519.5 315.0,519.5 316.6,519.5 C318.3,519.5 319.1,519.5 320.8,519.5 C322.5,519.5 323.3,519.5 325.0,519.5 C326.7,519.5 327.6,519.5 329.3,519.4 C331.0,519.4 331.8,519.4 333.6,519.3 C335.3,519.3 336.1,519.3 337.8,519.3 C339.6,519.2 340.4,519.2 342.1,519.2 C343.8,519.1 344.6,519.1 346.4,519.1 C348.2,519.1 349.4,519.1 351.3,519.0 C353.3,519.0 354.3,519.0 356.2,519.0 C358.2,518.9 359.2,518.9 361.2,518.9 C363.1,518.8 364.3,518.8 366.1,518.8 C367.9,518.8 368.7,518.8 370.4,518.7 C372.1,518.7 372.9,518.7 374.7,518.6 C376.4,518.6 377.2,518.6 378.9,518.6 C380.7,518.5 381.5,518.5 383.2,518.5 C384.9,518.4 385.8,518.4 387.5,518.4 C389.2,518.4 390.1,518.4 391.8,518.3 C393.5,518.3 394.3,518.3 396.1,518.2 C397.8,518.2 398.6,518.2 400.3,518.2 C402.1,518.1 402.9,518.1 404.6,518.1 C406.3,518.0 407.2,518.1 408.9,518.0 C410.6,517.9 411.4,517.6 413.0,517.4 C414.6,517.1 415.6,517.3 417.1,516.7 C418.6,516.1 419.2,515.5 420.5,514.5 C421.8,513.5 422.4,512.4 423.7,511.7 C425.0,511.0 425.8,511.2 427.0,511.0 C428.2,510.8 428.8,511.5 429.8,510.8 C430.8,510.1 431.0,509.8 431.8,507.7 C432.6,505.6 433.3,503.5 433.9,500.4 C434.5,497.3 434.7,494.2 435.0,492.0 C435.3,489.8 435.2,492.1 435.5,489.4 C435.8,486.7 436.1,482.9 436.6,478.6 C437.1,474.3 437.4,472.0 437.9,467.8 C438.4,463.6 438.8,458.4 439.3,457.5 C439.8,456.6 440.2,457.8 440.6,463.3 C441.0,468.8 440.8,479.2 441.1,484.9 C441.4,490.6 442.0,488.9 442.3,492.0 C442.6,495.1 442.4,497.3 442.8,500.4 C443.2,503.5 443.7,505.2 444.4,507.7 C445.1,510.2 445.1,511.2 446.5,512.9 C447.9,514.6 449.4,515.3 451.2,516.1 C453.0,516.9 453.6,516.8 455.4,517.1 C457.2,517.4 458.8,517.5 460.0,517.6 C461.2,517.7 460.4,517.8 461.5,517.8 C462.6,517.8 464.0,517.6 465.6,517.5 C467.2,517.4 467.7,517.6 469.7,517.2 C471.7,516.8 474.3,516.4 475.8,515.3 C477.3,514.2 476.8,511.8 477.4,511.6 C478.0,511.4 477.5,514.0 479.0,514.4 C480.5,514.8 482.8,513.8 484.8,513.8 C486.8,513.8 487.2,514.4 489.0,514.4 C490.8,514.4 491.8,514.1 493.6,513.9 C495.5,513.7 496.4,513.5 498.3,513.3 C500.1,513.1 501.2,512.9 502.9,512.8 C504.6,512.7 505.1,513.2 506.6,513.0 C508.1,512.8 508.9,512.2 510.5,511.8 C512.1,511.2 512.8,510.9 514.4,510.5 C516.0,510.1 516.8,510.6 518.3,510.0 C519.8,509.4 520.5,508.6 522.0,507.5 C523.5,506.4 524.4,506.2 525.7,504.5 C527.0,502.8 527.3,501.8 528.5,499.0 C529.7,496.2 530.7,493.3 531.7,490.6 C532.7,487.9 532.8,487.5 533.5,485.5 C534.2,483.5 534.2,482.5 535.0,480.7 C535.8,478.9 536.6,477.6 537.4,476.6 C538.2,475.6 538.4,475.7 539.1,475.8 C539.8,475.9 540.3,476.3 541.0,477.0 C541.7,477.7 541.6,477.0 542.4,479.1 C543.2,481.2 544.0,484.2 544.8,487.3 C545.6,490.4 545.8,492.3 546.5,494.6 C547.2,496.9 547.8,497.5 548.5,499.0 C549.2,500.5 549.3,500.9 550.0,502.0 C550.7,503.1 551.2,503.6 552.2,504.6 C553.2,505.6 553.9,506.4 555.0,507.1 C556.1,507.8 556.3,507.7 557.5,507.9 C558.7,508.1 559.8,508.3 561.0,508.0 C562.2,507.7 562.8,506.6 563.7,506.3 C564.6,506.0 564.7,506.1 565.5,506.6 C566.3,507.1 566.1,507.5 567.5,508.8 C568.9,510.1 570.9,512.1 572.5,513.0 C574.1,513.9 573.8,513.2 575.3,513.5 C576.8,513.8 578.0,514.1 579.8,514.5 C581.6,514.9 582.6,515.3 584.3,515.5 C586.0,515.7 586.7,515.6 588.4,515.7 C590.1,515.8 591.1,515.8 592.8,515.8 C594.6,515.8 595.5,515.9 597.3,515.9 C599.0,515.9 599.6,516.6 601.7,516.0 C603.8,515.4 606.0,515.1 607.8,513.0 C609.6,510.9 609.5,508.4 610.6,505.4 C611.7,502.4 612.2,498.1 613.4,498.0 C614.6,497.9 615.1,502.3 616.4,505.0 C617.7,507.7 618.8,510.2 620.0,511.7 C621.2,513.2 620.7,511.9 622.3,512.5 C623.9,513.1 626.1,513.7 628.2,514.7 C630.3,515.7 630.8,517.3 632.6,517.6 C634.4,517.9 635.4,516.0 637.0,516.2 C638.6,516.4 638.8,518.0 640.6,518.4 C642.4,518.8 643.9,518.2 646.1,518.0 C648.3,517.8 649.5,518.0 651.6,517.6 C653.7,517.2 654.7,516.7 656.8,516.2 C658.8,515.6 660.0,516.2 661.9,514.7 C663.8,513.2 664.9,511.6 666.3,508.8 C667.7,506.0 667.9,501.4 668.9,500.8 C669.9,500.2 670.2,503.1 671.4,505.9 C672.6,508.7 673.8,512.6 675.1,514.7 C676.4,516.8 676.7,516.1 678.0,516.2 C679.3,516.3 680.1,515.1 681.6,515.4 C683.1,515.7 683.8,517.0 685.3,517.6 C686.8,518.2 687.9,519.1 689.0,518.4 C690.1,517.7 690.1,516.1 690.8,514.0 C691.5,511.9 691.5,507.7 692.3,508.1 C693.1,508.5 693.4,514.1 694.8,516.2 C696.2,518.3 697.3,518.0 699.2,518.4 C701.1,518.8 702.3,518.2 704.3,518.1 C706.4,518.0 707.4,518.0 709.5,517.9 C711.5,517.8 712.7,517.8 714.6,517.6 C716.5,517.4 717.2,517.2 719.0,516.9 C720.8,516.6 721.6,516.4 723.4,516.1 C725.2,515.8 725.8,515.4 727.8,515.4 C729.8,515.4 731.0,515.9 733.6,516.2 C736.2,516.5 738.4,516.8 741.0,516.9 C743.6,517.0 744.5,516.8 746.9,516.8 C749.2,516.8 751.0,516.9 752.7,516.7 C754.4,516.5 754.4,516.3 755.5,516.0 C756.6,515.7 757.4,515.8 758.3,515.3 C759.2,514.8 759.5,514.1 760.1,513.5 C760.7,512.9 760.8,513.4 761.4,512.2 C762.0,511.0 762.7,510.2 763.2,507.7 C763.7,505.2 763.7,503.1 764.1,499.6 C764.5,496.1 764.7,493.1 765.0,490.0 C765.3,486.9 765.2,488.0 765.5,484.0 C765.8,480.0 766.1,476.8 766.4,470.0 C766.7,463.2 766.7,460.0 766.9,450.0 C767.1,440.0 767.2,432.4 767.5,420.0 C767.8,407.6 768.0,390.0 768.4,388.0 C768.8,386.0 769.1,399.6 769.5,410.0 C769.9,420.4 770.2,429.0 770.6,440.0 C771.0,451.0 771.1,455.6 771.4,465.0 C771.7,474.4 771.8,480.6 772.2,487.0 C772.6,493.4 773.0,493.1 773.5,496.9 C774.0,500.7 774.2,502.8 774.9,505.9 C775.6,509.0 776.3,510.6 777.1,512.2 C777.9,513.8 778.2,513.3 778.9,514.0 C779.6,514.7 779.6,515.2 780.7,515.8 C781.8,516.4 783.2,516.4 784.3,516.8 C785.4,517.2 784.3,517.1 786.1,517.6 C787.9,518.1 790.3,518.9 793.1,519.1 C795.9,519.3 797.7,518.9 800.0,518.8 C802.3,518.7 802.8,518.7 804.7,518.6 C806.6,518.6 807.6,518.3 809.4,518.5 C811.2,518.7 811.9,519.6 813.9,519.7 C815.9,519.8 817.0,519.2 819.1,519.0 C821.2,518.7 822.5,518.7 824.4,518.2 C826.3,517.7 827.1,516.3 828.6,516.4 C830.1,516.5 830.2,518.1 831.9,518.5 C833.6,518.9 835.0,518.4 837.1,518.4 C839.2,518.3 840.4,518.5 842.3,518.2 C844.2,517.9 845.0,517.3 846.8,516.7 C848.6,516.1 849.5,516.4 851.3,515.2 C853.1,514.0 854.5,513.1 855.8,510.7 C857.1,508.3 857.0,506.4 858.0,503.2 C859.0,500.0 859.6,494.3 860.6,494.6 C861.6,494.9 862.1,501.3 863.2,504.7 C864.3,508.1 864.7,510.1 866.2,511.5 C867.7,512.9 868.9,511.8 870.7,511.5 C872.5,511.2 873.7,509.7 875.2,510.0 C876.7,510.3 876.7,511.8 878.2,513.0 C879.7,514.2 880.6,515.4 882.7,516.0 C884.8,516.6 886.3,516.1 888.7,516.2 C891.0,516.3 891.9,516.6 894.6,516.4 C897.3,516.2 899.8,516.1 902.1,515.2 C904.4,514.3 904.4,513.0 906.0,511.7 C907.6,510.4 908.7,508.3 910.2,508.5 C911.7,508.7 912.0,511.3 913.5,512.5 C915.0,513.7 916.2,513.6 918.0,514.4 C919.7,515.1 920.6,515.8 922.4,516.2 C924.2,516.6 925.3,516.2 927.2,516.2 C929.1,516.2 930.0,516.2 932.0,516.2 C933.9,516.2 934.8,516.2 936.7,516.2 C938.7,516.2 939.6,516.2 941.5,516.2 C943.4,516.2 944.5,516.3 946.3,516.2 C948.1,516.1 948.8,515.9 950.4,515.7 C952.1,515.4 952.9,515.3 954.5,515.1 C956.2,514.9 957.0,514.8 958.7,514.5 C960.3,514.3 961.0,514.4 962.8,514.0 C964.6,513.6 965.7,513.2 967.6,512.7 C969.6,512.2 970.2,511.1 972.5,511.4 C974.8,511.7 976.8,513.6 979.2,514.0 C981.6,514.4 982.9,512.9 984.5,513.2 C986.1,513.5 986.1,514.3 987.4,515.5 C988.7,516.7 989.5,518.4 991.2,519.2 C992.9,520.0 993.9,519.2 995.7,519.3 C997.5,519.3 998.4,519.3 1000.2,519.3 C1002.0,519.3 1002.8,519.4 1004.6,519.4 C1006.4,519.4 1007.3,519.4 1009.1,519.4 C1010.9,519.5 1012.7,519.5 1013.6,519.5" fill="none" stroke="#3a3a3a" stroke-width="1.35" stroke-linejoin="round"/>
<path d="M65.0,486.3 C66.0,486.3 68.0,486.3 70.0,486.3 C72.0,486.3 72.9,486.3 75.0,486.3 C77.1,486.3 78.3,486.3 80.5,486.3 C82.7,486.3 84.3,486.5 86.0,486.3 C87.7,486.1 88.0,485.5 89.0,485.5 C90.0,485.5 89.8,486.2 91.0,486.3 C92.2,486.4 93.2,486.0 95.0,485.9 C96.8,485.8 98.0,485.9 100.0,485.8 C102.0,485.7 103.0,485.7 105.0,485.6 C107.0,485.4 108.2,485.4 110.0,485.3 C111.8,485.2 112.4,485.1 114.0,485.0 C115.6,484.8 116.4,484.9 118.0,484.6 C119.6,484.3 120.4,484.1 122.0,483.6 C123.6,483.1 124.4,482.9 126.0,482.1 C127.6,481.3 128.2,480.8 130.0,479.8 C131.8,478.8 133.2,478.0 135.0,477.1 C136.8,476.2 137.6,476.1 139.0,475.3 C140.4,474.5 140.9,474.7 141.8,473.3 C142.7,471.9 142.9,470.5 143.5,468.3 C144.1,466.1 144.3,464.0 144.9,462.4 C145.5,460.8 145.8,460.8 146.3,460.5 C146.8,460.2 146.6,461.3 147.3,461.1 C148.0,460.9 148.9,460.3 149.6,459.3 C150.3,458.3 150.5,457.9 151.0,456.3 C151.5,454.7 151.6,454.5 152.0,451.3 C152.4,448.1 152.8,444.4 153.2,440.3 C153.6,436.2 153.9,433.0 154.2,430.8 C154.5,428.6 154.6,429.0 154.9,429.1 C155.2,429.2 155.4,429.5 155.7,431.3 C156.0,433.1 156.1,435.9 156.4,438.3 C156.7,440.7 156.7,442.0 157.2,443.3 C157.7,444.6 158.1,444.6 158.7,444.6 C159.3,444.6 159.8,444.6 160.2,443.3 C160.6,442.0 160.6,440.7 160.9,438.3 C161.2,435.9 161.4,433.2 161.7,431.3 C162.0,429.4 162.1,429.5 162.4,428.9 C162.7,428.3 162.8,428.0 163.1,428.5 C163.4,429.0 163.6,430.0 163.9,431.3 C164.2,432.6 164.3,434.0 164.6,434.8 C164.9,435.6 165.1,435.8 165.4,435.3 C165.7,434.8 165.9,435.3 166.3,432.3 C166.7,429.3 167.2,430.7 167.6,420.3 C168.0,409.9 168.1,410.1 168.3,380.3 C168.5,350.5 168.5,323.3 168.8,271.3 C169.1,219.3 169.7,157.5 170.0,120.3 C170.3,83.1 170.2,85.3 170.3,85.3 C170.4,85.3 170.4,83.1 170.7,120.3 C171.0,157.5 171.3,219.3 171.6,271.3 C171.9,323.3 172.1,350.5 172.4,380.3 C172.7,410.1 172.9,407.7 173.3,420.3 C173.7,432.9 173.8,436.1 174.2,443.3 C174.6,450.5 174.8,452.2 175.5,456.3 C176.2,460.4 176.7,461.1 177.5,463.8 C178.3,466.5 178.6,468.3 179.3,469.8 C180.0,471.3 180.0,470.6 181.0,471.3 C182.0,472.0 183.2,472.1 184.2,473.1 C185.2,474.1 185.4,475.1 186.0,476.3 C186.6,477.5 186.7,477.9 187.4,479.2 C188.1,480.5 188.8,481.9 189.7,482.8 C190.6,483.7 190.5,483.5 192.0,483.9 C193.5,484.3 194.8,484.7 197.3,484.6 C199.8,484.5 202.7,483.8 204.7,483.3 C206.7,482.8 206.4,482.7 207.5,482.1 C208.6,481.5 209.0,480.2 210.1,480.4 C211.2,480.6 211.9,482.4 212.9,483.3 C213.9,484.2 214.0,484.5 215.0,485.1 C216.0,485.7 216.4,485.9 217.8,486.1 C219.2,486.3 220.3,486.1 222.0,486.1 C223.7,486.1 224.6,486.1 226.2,486.1 C227.9,486.1 228.8,486.1 230.5,486.1 C232.1,486.1 233.0,486.1 234.7,486.1 C236.4,486.1 237.2,486.1 238.9,486.1 C240.6,486.2 241.4,486.2 243.1,486.2 C244.8,486.2 245.7,486.2 247.3,486.2 C249.0,486.2 249.9,486.2 251.6,486.2 C253.2,486.2 254.1,486.2 255.8,486.2 C257.5,486.2 258.3,486.2 260.0,486.2 C261.7,486.2 262.4,486.2 264.1,486.2 C265.7,486.2 266.5,486.2 268.1,486.2 C269.8,486.2 270.6,486.2 272.2,486.2 C273.8,486.2 274.6,486.2 276.2,486.2 C277.9,486.2 278.7,486.2 280.3,486.2 C281.9,486.2 282.8,486.2 284.4,486.2 C286.0,486.2 286.8,486.2 288.4,486.2 C290.1,486.2 290.9,486.2 292.5,486.2 C294.1,486.2 294.9,486.2 296.6,486.2 C298.2,486.2 299.0,486.2 300.6,486.2 C302.2,486.2 303.1,486.2 304.7,486.2 C306.3,486.2 307.1,486.2 308.8,486.2 C310.4,486.2 311.2,486.2 312.8,486.2 C314.4,486.2 315.2,486.2 316.9,486.2 C318.5,486.2 319.3,486.2 320.9,486.2 C322.6,486.2 323.4,486.2 325.0,486.2 C326.6,486.2 327.4,486.2 329.0,486.1 C330.6,486.1 331.4,486.1 333.0,486.1 C334.6,486.1 335.4,486.0 337.0,486.0 C338.6,486.0 339.4,486.0 341.0,486.0 C342.6,485.9 343.3,486.1 345.0,485.9 C346.7,485.7 348.1,485.1 349.7,485.2 C351.3,485.3 351.5,486.0 353.0,486.2 C354.5,486.4 355.6,486.1 357.4,486.1 C359.1,486.1 360.0,486.0 361.7,486.0 C363.5,486.0 364.4,486.0 366.1,485.9 C367.8,485.8 368.6,485.8 370.2,485.7 C371.9,485.6 372.7,485.5 374.4,485.4 C376.0,485.3 376.8,485.3 378.5,485.2 C380.1,485.1 380.9,485.0 382.6,484.9 C384.3,484.8 385.2,484.8 387.0,484.8 C388.7,484.7 389.6,484.7 391.4,484.6 C393.1,484.6 394.0,484.6 395.8,484.5 C397.5,484.4 398.4,484.4 400.1,484.4 C401.9,484.3 402.8,484.3 404.5,484.2 C406.3,484.2 407.2,484.3 408.9,484.1 C410.6,483.9 411.4,483.6 413.0,483.2 C414.6,482.9 415.5,482.9 417.1,482.4 C418.7,481.9 419.5,481.7 421.0,480.8 C422.5,479.9 423.3,478.7 424.8,478.1 C426.3,477.5 427.2,478.2 428.5,477.6 C429.8,477.0 430.4,476.7 431.2,475.3 C432.0,473.9 432.1,472.4 432.5,470.8 C432.9,469.2 432.9,468.8 433.4,467.2 C433.9,465.6 434.3,465.9 434.8,462.7 C435.3,459.5 435.4,455.6 435.7,451.1 C436.0,446.6 435.6,444.7 436.1,440.3 C436.6,435.9 437.4,433.4 438.0,429.0 C438.6,424.6 438.6,421.8 439.1,418.3 C439.6,414.8 439.8,410.5 440.3,411.7 C440.8,412.9 441.2,418.5 441.5,424.2 C441.8,429.9 441.6,433.5 442.0,440.3 C442.4,447.1 442.8,452.6 443.3,458.3 C443.8,464.0 444.1,465.8 444.6,469.0 C445.1,472.2 445.1,472.4 446.0,474.4 C446.9,476.4 447.6,477.6 449.1,478.9 C450.6,480.2 451.8,480.1 453.6,480.7 C455.4,481.3 456.5,481.8 458.1,482.0 C459.7,482.2 460.0,482.0 461.5,481.9 C463.0,481.8 464.0,481.7 465.6,481.5 C467.2,481.3 467.8,481.4 469.7,481.1 C471.6,480.8 473.5,482.2 474.9,480.2 C476.3,478.2 476.1,471.9 476.9,471.2 C477.7,470.5 478.1,475.6 479.0,476.9 C479.9,478.2 480.4,478.1 481.5,477.7 C482.6,477.3 483.3,474.8 484.5,474.8 C485.7,474.8 485.6,477.1 487.3,477.7 C489.0,478.3 490.9,477.9 493.0,477.7 C495.1,477.5 496.0,477.2 497.9,476.9 C499.9,476.6 500.8,476.4 502.9,476.1 C505.0,475.8 506.1,475.6 508.2,475.2 C510.4,474.9 511.4,475.1 513.6,474.4 C515.8,473.8 517.0,473.6 519.3,472.0 C521.6,470.4 523.1,469.3 525.1,466.2 C527.1,463.1 527.7,460.7 529.2,456.4 C530.7,452.1 531.2,449.7 532.5,444.8 C533.8,439.9 534.6,436.0 535.8,431.7 C537.0,427.4 537.5,425.4 538.3,423.5 C539.1,421.6 539.1,421.5 539.9,422.1 C540.7,422.7 541.4,423.5 542.4,426.7 C543.4,429.9 543.8,433.4 544.8,438.3 C545.8,443.2 546.1,446.8 547.3,451.4 C548.5,456.0 549.0,458.0 550.6,461.3 C552.2,464.6 553.7,466.4 555.5,467.9 C557.3,469.4 558.3,468.7 559.6,468.7 C560.9,468.7 561.0,468.5 562.0,467.8 C563.0,467.1 563.6,465.1 564.6,465.4 C565.6,465.7 565.5,467.5 567.0,469.5 C568.5,471.5 570.0,473.8 572.0,475.3 C574.0,476.8 574.9,476.3 576.9,477.0 C578.9,477.6 580.0,478.0 581.8,478.6 C583.6,479.2 584.3,479.3 586.0,479.8 C587.6,480.3 588.3,480.8 590.1,481.0 C591.9,481.2 593.0,481.0 595.0,481.0 C597.0,481.0 597.6,481.7 599.9,481.0 C602.2,480.3 604.5,480.3 606.5,477.7 C608.5,475.1 608.6,471.7 609.8,467.9 C611.0,464.1 611.3,459.2 612.3,458.5 C613.3,457.8 613.7,461.6 614.7,464.6 C615.7,467.6 616.0,471.4 617.2,473.6 C618.4,475.8 619.0,474.5 620.9,475.5 C622.8,476.5 624.4,477.1 626.7,478.4 C629.0,479.7 630.5,481.5 632.6,482.0 C634.7,482.5 635.2,480.6 637.0,481.0 C638.8,481.4 639.4,483.4 641.4,483.9 C643.4,484.4 644.9,483.6 647.2,483.4 C649.6,483.1 651.1,483.3 653.1,482.8 C655.1,482.3 655.7,481.7 657.5,481.0 C659.3,480.2 660.3,480.6 661.9,479.1 C663.5,477.6 664.1,476.1 665.5,473.3 C666.9,470.5 667.7,465.3 668.9,464.9 C670.1,464.5 670.5,468.5 671.4,471.1 C672.3,473.7 672.6,475.8 673.6,477.7 C674.6,479.6 675.0,480.3 676.5,480.6 C678.0,480.9 679.4,478.8 680.9,479.1 C682.4,479.4 682.5,481.0 683.8,482.0 C685.1,483.0 686.2,484.2 687.5,483.9 C688.8,483.6 689.4,483.5 690.4,480.6 C691.4,477.7 691.6,469.8 692.3,469.6 C693.0,469.4 693.0,476.9 694.1,479.8 C695.2,482.7 696.2,483.1 697.8,483.9 C699.4,484.7 700.3,484.0 701.9,484.0 C703.6,484.0 704.4,484.1 706.1,484.1 C707.7,484.1 708.5,484.3 710.2,484.2 C711.9,484.1 712.8,483.8 714.6,483.5 C716.4,483.2 717.3,483.2 719.0,482.8 C720.7,482.4 721.4,481.9 723.0,481.3 C724.7,480.7 725.3,479.7 727.1,479.8 C728.9,479.9 729.7,481.3 732.2,482.0 C734.7,482.7 737.2,483.2 739.5,483.5 C741.8,483.8 742.1,483.5 743.9,483.5 C745.7,483.5 746.5,483.8 748.3,483.5 C750.1,483.2 751.1,482.9 752.9,482.1 C754.7,481.3 755.9,481.1 757.4,479.7 C758.9,478.3 759.5,477.4 760.5,475.2 C761.5,473.0 761.8,471.8 762.3,468.9 C762.8,466.0 762.8,465.8 763.2,460.8 C763.6,455.8 763.7,449.5 764.1,443.8 C764.5,438.1 764.6,438.8 765.0,432.1 C765.4,425.4 765.6,419.7 766.0,410.3 C766.4,400.9 766.6,394.4 767.0,385.3 C767.4,376.2 767.7,364.8 768.2,364.8 C768.7,364.8 768.9,377.2 769.3,385.3 C769.7,393.4 770.0,398.3 770.4,405.3 C770.8,412.3 770.9,415.3 771.2,420.3 C771.5,425.3 771.4,424.3 771.7,430.3 C772.0,436.3 772.2,444.7 772.5,450.3 C772.8,455.9 772.7,454.0 773.1,458.1 C773.5,462.2 773.9,467.4 774.4,470.7 C774.9,474.0 775.0,473.4 775.5,474.8 C776.0,476.2 776.2,476.5 777.1,477.7 C778.0,478.9 778.9,480.0 779.8,480.8 C780.7,481.6 780.7,481.0 781.6,481.5 C782.5,482.0 782.8,482.8 784.3,483.3 C785.8,483.8 786.9,483.9 788.9,484.1 C790.9,484.3 792.2,484.1 794.5,484.1 C796.7,484.2 798.0,484.1 800.0,484.2 C802.0,484.3 802.8,484.4 804.7,484.6 C806.6,484.7 807.6,484.9 809.4,484.9 C811.2,484.9 812.1,484.7 813.9,484.6 C815.7,484.5 816.6,484.5 818.4,484.4 C820.2,484.3 821.5,484.7 822.9,484.1 C824.3,483.5 824.5,482.3 825.5,481.3 C826.5,480.3 826.8,478.6 828.1,478.9 C829.4,479.2 829.7,482.0 831.9,482.9 C834.1,483.8 836.3,483.8 839.3,483.4 C842.3,483.0 844.1,482.3 846.8,481.1 C849.5,479.9 851.0,479.5 852.8,477.4 C854.6,475.3 854.8,474.4 855.8,470.7 C856.8,467.0 857.2,462.9 858.0,458.7 C858.8,454.5 859.3,450.6 860.0,449.7 C860.7,448.8 860.9,451.2 861.7,454.2 C862.5,457.2 862.8,461.0 864.0,464.7 C865.2,468.4 866.2,471.5 867.7,472.5 C869.2,473.5 870.1,471.1 871.5,469.9 C872.9,468.7 873.5,466.6 874.5,466.5 C875.5,466.4 875.7,468.1 876.7,469.5 C877.7,470.9 877.9,472.2 879.7,473.6 C881.5,475.0 883.6,476.1 885.7,476.6 C887.8,477.1 888.4,476.4 890.2,476.2 C891.9,476.1 892.5,476.3 894.6,475.9 C896.7,475.5 898.4,475.4 900.6,474.4 C902.8,473.4 904.4,472.4 905.8,470.7 C907.2,469.0 906.8,467.1 907.5,465.7 C908.2,464.3 908.6,463.5 909.3,463.5 C910.0,463.5 910.4,464.2 911.2,465.7 C912.0,467.2 912.2,469.1 913.5,470.9 C914.8,472.7 916.1,473.7 917.9,474.7 C919.7,475.7 920.6,475.7 922.4,475.9 C924.2,476.1 925.1,475.9 926.9,475.9 C928.7,475.9 929.6,475.9 931.4,475.9 C933.2,475.9 934.0,475.9 935.8,475.9 C937.6,475.9 938.5,475.9 940.3,475.9 C942.1,475.9 943.3,476.1 944.8,475.9 C946.3,475.7 946.3,475.3 947.8,475.0 C949.3,474.7 950.5,474.7 952.3,474.5 C954.1,474.2 954.4,474.4 956.8,473.9 C959.2,473.4 962.1,472.9 964.3,472.0 C966.5,471.1 966.5,470.5 968.0,469.4 C969.5,468.3 970.4,466.8 971.7,466.5 C973.0,466.2 973.3,466.9 974.7,468.0 C976.1,469.1 977.0,471.3 978.5,472.1 C980.0,472.9 981.0,472.2 982.2,472.0 C983.4,471.8 983.7,470.4 984.5,470.9 C985.3,471.4 985.7,472.4 986.4,474.7 C987.1,477.0 987.4,480.0 988.2,482.2 C989.0,484.4 988.9,485.1 990.4,485.9 C991.9,486.7 994.0,486.0 995.7,486.3 C997.4,486.6 996.9,487.3 998.7,487.4 C1000.5,487.5 1002.5,487.0 1004.6,486.9 C1006.7,486.9 1007.3,487.1 1009.1,487.2 C1010.9,487.3 1012.7,487.4 1013.6,487.4" fill="none" stroke="#3a3a3a" stroke-width="1.35" stroke-linejoin="round"/>
<path d="M408.9,396.1 H463.0" stroke="#151515" stroke-width="1.2" fill="none" stroke-dasharray="5.4,2.97"/>
<path d="M408.9,581.8 H463.0" stroke="#151515" stroke-width="1.2" fill="none" stroke-dasharray="5.4,2.97"/>
<path d="M409.5,396.1 V581.8" stroke="#151515" stroke-width="1.2" fill="none" stroke-dasharray="4.0,3.4" stroke-dashoffset="4.3"/>
<path d="M462.4,396.1 V581.8" stroke="#151515" stroke-width="1.2" fill="none" stroke-dasharray="4.0,3.4" stroke-dashoffset="4.3"/>
<path d="M740.0,364.5 H794.1" stroke="#151515" stroke-width="1.2" fill="none" stroke-dasharray="5.4,2.97"/>
<path d="M740.0,582.9 H794.1" stroke="#151515" stroke-width="1.2" fill="none" stroke-dasharray="5.4,2.97"/>
<path d="M740.6,364.5 V582.9" stroke="#151515" stroke-width="1.2" fill="none" stroke-dasharray="4.0,3.4" stroke-dashoffset="4.3"/>
<path d="M793.5,364.5 V582.9" stroke="#151515" stroke-width="1.2" fill="none" stroke-dasharray="4.0,3.4" stroke-dashoffset="4.3"/>
<path d="M239.5,28.3 H393.6" stroke="#222" stroke-width="1.3" fill="none" stroke-dasharray="5.4,2.97"/>
<path d="M239.5,295.5 H393.6" stroke="#222" stroke-width="1.3" fill="none" stroke-dasharray="5.4,2.97"/>
<path d="M240.1,28.3 V295.5" stroke="#222" stroke-width="1.3" fill="none" stroke-dasharray="4.0,3.4" stroke-dashoffset="4.3"/>
<path d="M393.0,28.3 V295.5" stroke="#222" stroke-width="1.3" fill="none" stroke-dasharray="4.0,3.4" stroke-dashoffset="4.3"/>
<path d="M768.4,28.3 H976.3000000000001" stroke="#222" stroke-width="1.3" fill="none" stroke-dasharray="5.4,2.97"/>
<path d="M768.4,294.3 H976.3000000000001" stroke="#222" stroke-width="1.3" fill="none" stroke-dasharray="5.4,2.97"/>
<path d="M769,28.3 V294.3" stroke="#222" stroke-width="1.3" fill="none" stroke-dasharray="4.0,3.4" stroke-dashoffset="4.3"/>
<path d="M975.7,28.3 V294.3" stroke="#222" stroke-width="1.3" fill="none" stroke-dasharray="4.0,3.4" stroke-dashoffset="4.3"/>
<path d="M240.6,247.0 L241.1,246.9 L241.5,246.8 L242.0,246.7 L242.4,246.6 L242.9,246.5 L243.4,246.4 L243.8,246.3 L244.3,246.3 L244.8,246.2 L245.2,246.1 L245.7,246.0 L246.1,245.9 L246.6,245.8 L247.1,245.7 L247.5,245.6 L248.0,245.5 L248.4,245.4 L248.9,245.3 L249.3,245.2 L249.8,245.2 L250.3,245.1 L250.7,245.0 L251.2,244.9 L251.6,244.8 L252.1,244.7 L252.5,244.6 L253.0,244.5 L253.4,244.4 L253.9,244.3 L254.3,244.2 L254.8,244.0 L255.2,243.9 L255.7,243.8 L256.1,243.7 L256.6,243.6 L257.0,243.5 L257.5,243.4 L257.9,243.3 L258.4,243.1 L258.8,243.0 L259.3,242.9 L259.7,242.8 L260.1,242.7 L260.6,242.5 L261.0,242.4 L261.5,242.3 L261.9,242.1 L262.3,242.0 L262.8,241.9 L263.2,241.7 L263.7,241.6 L264.1,241.4 L264.5,241.3 L265.0,241.2 L265.4,241.0 L265.8,240.8 L266.3,240.7 L266.7,240.5 L267.1,240.4 L267.5,240.2 L268.0,240.0 L268.4,239.9 L268.8,239.7 L269.3,239.5 L269.7,239.4 L270.1,239.2 L270.5,239.0 L270.9,238.8 L271.4,238.6 L271.8,238.4 L272.2,238.2 L272.6,238.0 L273.0,237.8 L273.5,237.6 L273.9,237.4 L274.3,237.2 L274.7,237.0 L275.1,236.8 L275.5,236.6 L275.9,236.3 L276.3,236.1 L276.7,235.9 L277.1,235.7 L277.5,235.4 L277.9,235.2 L278.3,234.9 L278.7,234.7 L279.1,234.4 L279.5,234.2 L279.9,233.9 L280.3,233.7 L280.7,233.4 L281.1,233.1 L281.5,232.9 L281.9,232.6 L282.2,232.3 L282.6,232.0 L283.0,231.8 L283.4,231.5 L283.7,231.2 L284.1,230.9 L284.5,230.6 L284.8,230.3 L285.2,230.0 L285.5,229.7 L285.9,229.4 L286.3,229.1 L286.6,228.8 L286.9,228.5 L287.3,228.1 L287.6,227.8 L288.0,227.5 L288.3,227.2 L288.6,226.8 L288.9,226.5 L289.3,226.2 L289.6,225.8 L289.9,225.5 L290.2,225.1 L290.5,224.8 L290.8,224.4 L291.1,224.1 L291.4,223.7 L291.7,223.4 L292.0,223.0 L292.3,222.7 L292.6,222.3 L292.9,221.9 L293.1,221.6 L293.4,221.2 L293.7,220.8 L294.0,220.5 L294.3,220.1 L294.5,219.7 L294.8,219.3 L295.1,218.9 L295.3,218.6 L295.6,218.2 L295.8,217.8 L296.1,217.4 L296.4,217.0 L296.6,216.6 L296.9,216.3 L297.1,215.9 L297.4,215.5 L297.6,215.1 L297.9,214.7 L298.1,214.3 L298.4,213.9 L298.6,213.5 L298.8,213.1 L299.1,212.7 L299.3,212.3 L299.6,211.9 L299.8,211.5 L300.0,211.1 L300.3,210.7 L300.5,210.3 L300.7,209.9 L301.0,209.5 L301.2,209.1 L301.4,208.7 L301.7,208.3 L301.9,207.9 L302.1,207.5 L302.3,207.1 L302.6,206.7 L302.8,206.3 L303.0,205.9 L303.2,205.5 L303.5,205.1 L303.7,204.7 L303.9,204.3 L304.1,203.9 L304.3,203.5 L304.6,203.1 L304.8,202.7 L305.0,202.3 L305.2,201.9 L305.4,201.4 L305.6,201.0 L305.9,200.6 L306.1,200.2 L306.3,199.8 L306.5,199.4 L306.7,199.0 L306.9,198.6 L307.1,198.2 L307.3,197.8 L307.5,197.3 L307.7,196.9 L308.0,196.5 L308.2,196.1 L308.4,195.7 L308.6,195.3 L308.8,194.9 L309.0,194.4 L309.2,194.0 L309.4,193.6 L309.6,193.2 L309.8,192.8 L310.0,192.4 L310.2,191.9 L310.4,191.5 L310.6,191.1 L310.8,190.7 L311.0,190.3 L311.2,189.8 L311.4,189.4 L311.6,189.0 L311.8,188.6 L312.0,188.2 L312.2,187.7 L312.3,187.3 L312.5,186.9 L312.7,186.5 L312.9,186.1 L313.1,185.6 L313.3,185.2 L313.5,184.8 L313.7,184.4 L313.9,184.0 L314.1,183.5 L314.3,183.1 L314.5,182.7 L314.7,182.3 L314.8,181.8 L315.0,181.4 L315.2,181.0 L315.4,180.6 L315.6,180.1 L315.8,179.7 L316.0,179.3 L316.2,178.9 L316.4,178.4 L316.5,178.0 L316.7,177.6 L316.9,177.2 L317.1,176.7 L317.3,176.3 L317.5,175.9 L317.7,175.5 L317.8,175.0 L318.0,174.6 L318.2,174.2 L318.4,173.7 L318.6,173.3 L318.8,172.9 L319.0,172.5 L319.2,172.0 L319.3,171.6 L319.5,171.2 L319.7,170.8 L319.9,170.3 L320.1,169.9 L320.3,169.5 L320.5,169.0 L320.6,168.6 L320.8,168.2 L321.0,167.8 L321.2,167.3 L321.4,166.9 L321.6,166.5 L321.8,166.0 L321.9,165.6 L322.1,165.2 L322.3,164.7 L322.5,164.3 L322.7,163.9 L322.9,163.5 L323.1,163.0 L323.2,162.6 L323.4,162.2 L323.6,161.7 L323.8,161.3 L324.0,160.9 L324.2,160.5 L324.4,160.0 L324.6,159.6 L324.8,159.2 L324.9,158.7 L325.1,158.3 L325.3,157.9 L325.5,157.4 L325.7,157.0 L325.9,156.6 L326.1,156.2 L326.3,155.7 L326.5,155.3 L326.7,154.9 L326.9,154.4 L327.1,154.0 L327.2,153.6 L327.4,153.2 L327.6,152.7 L327.8,152.3 L328.0,151.9 L328.2,151.4 L328.4,151.0 L328.6,150.6 L328.8,150.2 L329.0,149.7 L329.2,149.3 L329.4,148.9 L329.6,148.5 L329.8,148.0 L330.0,147.6 L330.2,147.2 L330.5,146.8 L330.7,146.4 L330.9,146.1 L331.2,145.7 L331.5,145.4 L331.7,145.0 L332.0,144.7 L332.3,144.4 L332.6,144.2 L332.9,143.9 L333.3,143.7 L333.6,143.5 L334.0,143.3 L334.4,143.2 L334.8,143.0 L335.3,142.9 L335.7,142.9 L336.1,142.8 L336.5,142.9 L337.0,142.9 L337.4,143.0 L337.7,143.2 L338.1,143.4 L338.4,143.6 L338.7,143.9 L339.0,144.3 L339.2,144.6 L339.4,145.0 L339.7,145.4 L339.9,145.8 L340.1,146.3 L340.3,146.7 L340.5,147.1 L340.7,147.5 L340.9,147.9 L341.1,148.4 L341.3,148.8 L341.4,149.2 L341.6,149.7 L341.8,150.1 L341.9,150.5 L342.1,151.0 L342.3,151.4 L342.4,151.9 L342.6,152.3 L342.7,152.7 L342.9,153.2 L343.0,153.6 L343.2,154.1 L343.3,154.5 L343.4,155.0 L343.6,155.4 L343.7,155.9 L343.8,156.3 L343.9,156.8 L344.1,157.2 L344.2,157.7 L344.3,158.1 L344.4,158.6 L344.6,159.0 L344.7,159.5 L344.8,159.9 L344.9,160.4 L345.0,160.8 L345.1,161.3 L345.3,161.7 L345.4,162.2 L345.5,162.6 L345.6,163.1 L345.7,163.5 L345.8,164.0 L345.9,164.4 L346.1,164.9 L346.2,165.4 L346.3,165.8 L346.4,166.3 L346.5,166.7 L346.6,167.2 L346.7,167.6 L346.9,168.1 L347.0,168.5 L347.1,169.0 L347.2,169.4 L347.3,169.9 L347.4,170.3 L347.5,170.8 L347.7,171.2 L347.8,171.7 L347.9,172.1 L348.0,172.6 L348.1,173.0 L348.2,173.5 L348.3,173.9 L348.4,174.4 L348.6,174.8 L348.7,175.3 L348.8,175.7 L348.9,176.2 L349.0,176.6 L349.1,177.1 L349.2,177.5 L349.3,178.0 L349.5,178.4 L349.6,178.9 L349.7,179.3 L349.8,179.8 L349.9,180.2 L350.0,180.7 L350.1,181.1 L350.2,181.6 L350.3,182.0 L350.5,182.5 L350.6,182.9 L350.7,183.3 L350.8,183.8 L350.9,184.2 L351.0,184.7 L351.1,185.1 L351.2,185.6 L351.4,186.0 L351.5,186.5 L351.6,186.9 L351.7,187.4 L351.8,187.8 L351.9,188.3 L352.0,188.7 L352.1,189.2 L352.3,189.6 L352.4,190.1 L352.5,190.5 L352.6,191.0 L352.7,191.4 L352.8,191.9 L352.9,192.3 L353.1,192.8 L353.2,193.2 L353.3,193.7 L353.4,194.1 L353.5,194.6 L353.6,195.0 L353.7,195.5 L353.8,195.9 L354.0,196.4 L354.1,196.8 L354.2,197.3 L354.3,197.8 L354.4,198.2 L354.5,198.7 L354.7,199.1 L354.8,199.6 L354.9,200.0 L355.0,200.5 L355.1,200.9 L355.2,201.4 L355.4,201.8 L355.5,202.3 L355.6,202.7 L355.7,203.2 L355.8,203.6 L356.0,204.1 L356.1,204.5 L356.2,205.0 L356.3,205.4 L356.5,205.9 L356.6,206.3 L356.7,206.8 L356.8,207.2 L357.0,207.6 L357.1,208.1 L357.2,208.5 L357.4,209.0 L357.5,209.4 L357.6,209.9 L357.8,210.3 L357.9,210.8 L358.1,211.2 L358.2,211.6 L358.4,212.1 L358.5,212.5 L358.7,213.0 L358.8,213.4 L359.0,213.8 L359.1,214.3 L359.3,214.7 L359.4,215.1 L359.6,215.6 L359.7,216.0 L359.9,216.4 L360.1,216.9 L360.2,217.3 L360.4,217.7 L360.6,218.2 L360.8,218.6 L360.9,219.0 L361.1,219.4 L361.3,219.9 L361.5,220.3 L361.7,220.7 L361.9,221.1 L362.1,221.6 L362.3,222.0 L362.5,222.4 L362.7,222.8 L362.9,223.2 L363.1,223.6 L363.3,224.1 L363.5,224.5 L363.7,224.9 L363.9,225.3 L364.1,225.7 L364.4,226.1 L364.6,226.5 L364.8,226.9 L365.1,227.3 L365.3,227.7 L365.5,228.1 L365.8,228.5 L366.0,228.9 L366.3,229.3 L366.5,229.7 L366.8,230.1 L367.0,230.4 L367.3,230.8 L367.6,231.2 L367.8,231.6 L368.1,232.0 L368.4,232.3 L368.7,232.7 L369.0,233.1 L369.2,233.5 L369.5,233.8 L369.8,234.2 L370.1,234.5 L370.4,234.9 L370.7,235.3 L371.0,235.6 L371.3,236.0 L371.6,236.3 L372.0,236.6 L372.3,237.0 L372.6,237.3 L372.9,237.7 L373.3,238.0 L373.6,238.3 L373.9,238.6 L374.3,238.9 L374.6,239.3 L375.0,239.6 L375.3,239.9 L375.7,240.2 L376.0,240.5 L376.4,240.8 L376.7,241.0 L377.1,241.3 L377.5,241.6 L377.8,241.9 L378.2,242.1 L378.6,242.4 L379.0,242.7 L379.3,242.9 L379.7,243.2 L380.1,243.4 L380.5,243.7 L380.9,243.9 L381.3,244.1 L381.7,244.3 L382.1,244.6 L382.5,244.8 L382.9,245.0 L383.3,245.2 L383.7,245.4 L384.2,245.6 L384.6,245.7 L385.0,245.9 L385.4,246.1 L385.9,246.3 L386.3,246.4 L386.7,246.6 L387.2,246.7 L387.6,246.9 L388.1,247.0 L388.5,247.1 L389.0,247.2 L389.4,247.4 L389.9,247.5 L390.4,247.6 L390.8,247.7 L391.3,247.7 L391.8,247.8 L392.2,247.9 L392.7,248.0" fill="none" stroke="#2a2a2a" stroke-width="1.25"/>
<path d="M240.8,213.9 L241.2,213.9 L241.7,213.8 L242.1,213.7 L242.6,213.6 L243.1,213.6 L243.5,213.5 L244.0,213.4 L244.4,213.4 L244.9,213.3 L245.4,213.2 L245.8,213.1 L246.3,213.0 L246.8,213.0 L247.2,212.9 L247.7,212.8 L248.2,212.7 L248.6,212.7 L249.1,212.6 L249.6,212.5 L250.0,212.4 L250.5,212.3 L251.0,212.2 L251.4,212.1 L251.9,212.1 L252.4,212.0 L252.8,211.9 L253.3,211.8 L253.8,211.7 L254.2,211.6 L254.7,211.5 L255.2,211.4 L255.7,211.3 L256.1,211.2 L256.6,211.1 L257.1,211.0 L257.5,210.9 L258.0,210.7 L258.4,210.6 L258.9,210.5 L259.4,210.4 L259.8,210.3 L260.3,210.1 L260.8,210.0 L261.2,209.9 L261.7,209.8 L262.1,209.6 L262.6,209.5 L263.0,209.3 L263.5,209.2 L264.0,209.1 L264.4,208.9 L264.9,208.8 L265.3,208.6 L265.8,208.4 L266.2,208.3 L266.6,208.1 L267.1,207.9 L267.5,207.8 L268.0,207.6 L268.4,207.4 L268.8,207.2 L269.3,207.1 L269.7,206.9 L270.1,206.7 L270.6,206.5 L271.0,206.3 L271.4,206.1 L271.9,205.9 L272.3,205.7 L272.7,205.4 L273.1,205.2 L273.5,205.0 L273.9,204.8 L274.3,204.5 L274.8,204.3 L275.2,204.1 L275.6,203.8 L276.0,203.6 L276.4,203.3 L276.7,203.1 L277.1,202.8 L277.5,202.5 L277.9,202.3 L278.3,202.0 L278.7,201.7 L279.1,201.4 L279.4,201.1 L279.8,200.9 L280.2,200.6 L280.6,200.3 L280.9,200.0 L281.3,199.7 L281.6,199.3 L282.0,199.0 L282.4,198.7 L282.7,198.4 L283.1,198.1 L283.4,197.8 L283.8,197.4 L284.1,197.1 L284.5,196.8 L284.8,196.5 L285.2,196.1 L285.5,195.8 L285.8,195.5 L286.2,195.1 L286.5,194.8 L286.9,194.4 L287.2,194.1 L287.5,193.8 L287.8,193.4 L288.2,193.1 L288.5,192.7 L288.8,192.4 L289.1,192.0 L289.5,191.7 L289.8,191.3 L290.1,191.0 L290.4,190.6 L290.7,190.3 L291.0,189.9 L291.4,189.5 L291.7,189.2 L292.0,188.8 L292.3,188.5 L292.6,188.1 L292.9,187.8 L293.2,187.4 L293.5,187.0 L293.8,186.7 L294.1,186.3 L294.4,186.0 L294.7,185.6 L295.0,185.2 L295.3,184.9 L295.6,184.5 L295.9,184.1 L296.2,183.8 L296.5,183.4 L296.8,183.0 L297.1,182.7 L297.3,182.3 L297.6,181.9 L297.9,181.5 L298.2,181.2 L298.5,180.8 L298.8,180.4 L299.1,180.0 L299.3,179.7 L299.6,179.3 L299.9,178.9 L300.2,178.5 L300.5,178.1 L300.7,177.8 L301.0,177.4 L301.3,177.0 L301.6,176.6 L301.8,176.2 L302.1,175.8 L302.4,175.4 L302.7,175.0 L302.9,174.6 L303.2,174.3 L303.5,173.9 L303.7,173.5 L304.0,173.1 L304.3,172.7 L304.5,172.3 L304.8,171.9 L305.1,171.5 L305.3,171.1 L305.6,170.7 L305.8,170.3 L306.1,169.9 L306.3,169.5 L306.6,169.1 L306.9,168.7 L307.1,168.2 L307.4,167.8 L307.6,167.4 L307.9,167.0 L308.1,166.6 L308.4,166.2 L308.6,165.8 L308.8,165.4 L309.1,165.0 L309.3,164.5 L309.6,164.1 L309.8,163.7 L310.0,163.3 L310.3,162.9 L310.5,162.5 L310.8,162.0 L311.0,161.6 L311.2,161.2 L311.4,160.8 L311.7,160.4 L311.9,159.9 L312.1,159.5 L312.3,159.1 L312.6,158.7 L312.8,158.2 L313.0,157.8 L313.2,157.4 L313.4,157.0 L313.7,156.5 L313.9,156.1 L314.1,155.7 L314.3,155.2 L314.5,154.8 L314.7,154.4 L314.9,154.0 L315.1,153.5 L315.3,153.1 L315.5,152.7 L315.7,152.2 L315.9,151.8 L316.1,151.4 L316.3,150.9 L316.5,150.5 L316.7,150.1 L316.9,149.6 L317.0,149.2 L317.2,148.8 L317.4,148.3 L317.6,147.9 L317.8,147.4 L317.9,147.0 L318.1,146.6 L318.3,146.1 L318.4,145.7 L318.6,145.2 L318.8,144.8 L318.9,144.4 L319.1,143.9 L319.3,143.5 L319.4,143.0 L319.6,142.6 L319.7,142.2 L319.9,141.7 L320.1,141.3 L320.2,140.8 L320.4,140.4 L320.5,139.9 L320.7,139.5 L320.8,139.1 L321.0,138.6 L321.1,138.2 L321.3,137.7 L321.4,137.3 L321.6,136.8 L321.7,136.4 L321.8,135.9 L322.0,135.5 L322.1,135.0 L322.3,134.6 L322.4,134.2 L322.6,133.7 L322.7,133.3 L322.9,132.8 L323.0,132.4 L323.1,131.9 L323.3,131.5 L323.4,131.0 L323.6,130.6 L323.7,130.1 L323.9,129.7 L324.0,129.2 L324.2,128.8 L324.3,128.3 L324.5,127.9 L324.6,127.4 L324.8,126.9 L324.9,126.5 L325.1,126.0 L325.2,125.6 L325.4,125.1 L325.5,124.7 L325.7,124.2 L325.8,123.8 L326.0,123.3 L326.1,122.9 L326.3,122.4 L326.5,122.0 L326.6,121.5 L326.8,121.0 L327.0,120.6 L327.1,120.1 L327.3,119.7 L327.5,119.2 L327.7,118.8 L327.8,118.3 L328.0,117.8 L328.2,117.4 L328.4,116.9 L328.6,116.5 L328.7,116.0 L328.9,115.5 L329.1,115.1 L329.3,114.6 L329.5,114.2 L329.7,113.7 L329.9,113.2 L330.1,112.8 L330.3,112.3 L330.6,111.9 L330.8,111.4 L331.0,111.0 L331.2,110.5 L331.4,110.1 L331.7,109.7 L331.9,109.3 L332.2,108.9 L332.4,108.5 L332.7,108.2 L332.9,107.9 L333.2,107.6 L333.5,107.3 L333.8,107.1 L334.1,106.9 L334.4,106.8 L334.7,106.7 L335.0,106.6 L335.3,106.6 L335.7,106.7 L336.0,106.7 L336.4,106.9 L336.7,107.0 L337.1,107.2 L337.4,107.5 L337.7,107.8 L338.1,108.1 L338.4,108.4 L338.6,108.8 L338.9,109.2 L339.2,109.6 L339.4,110.0 L339.6,110.5 L339.9,110.9 L340.1,111.4 L340.3,111.9 L340.5,112.3 L340.6,112.8 L340.8,113.2 L341.0,113.7 L341.2,114.2 L341.3,114.6 L341.5,115.1 L341.6,115.6 L341.8,116.0 L341.9,116.5 L342.1,117.0 L342.2,117.4 L342.3,117.9 L342.4,118.4 L342.6,118.8 L342.7,119.3 L342.8,119.8 L342.9,120.2 L343.0,120.7 L343.1,121.2 L343.2,121.6 L343.3,122.1 L343.4,122.6 L343.5,123.0 L343.6,123.5 L343.7,124.0 L343.8,124.4 L343.9,124.9 L344.0,125.4 L344.1,125.8 L344.1,126.3 L344.2,126.8 L344.3,127.2 L344.4,127.7 L344.5,128.2 L344.6,128.6 L344.7,129.1 L344.8,129.5 L344.9,130.0 L345.0,130.5 L345.1,130.9 L345.2,131.4 L345.3,131.9 L345.4,132.3 L345.5,132.8 L345.6,133.2 L345.7,133.7 L345.9,134.2 L346.0,134.6 L346.1,135.1 L346.2,135.5 L346.3,136.0 L346.4,136.5 L346.5,136.9 L346.7,137.4 L346.8,137.8 L346.9,138.3 L347.0,138.7 L347.1,139.2 L347.3,139.7 L347.4,140.1 L347.5,140.6 L347.6,141.0 L347.8,141.5 L347.9,141.9 L348.0,142.4 L348.1,142.9 L348.3,143.3 L348.4,143.8 L348.5,144.2 L348.6,144.7 L348.8,145.1 L348.9,145.6 L349.0,146.1 L349.2,146.5 L349.3,147.0 L349.4,147.4 L349.6,147.9 L349.7,148.3 L349.8,148.8 L350.0,149.2 L350.1,149.7 L350.2,150.2 L350.4,150.6 L350.5,151.1 L350.6,151.5 L350.7,152.0 L350.9,152.4 L351.0,152.9 L351.1,153.3 L351.3,153.8 L351.4,154.3 L351.5,154.7 L351.7,155.2 L351.8,155.6 L351.9,156.1 L352.1,156.5 L352.2,157.0 L352.3,157.4 L352.5,157.9 L352.6,158.4 L352.7,158.8 L352.9,159.3 L353.0,159.7 L353.1,160.2 L353.3,160.7 L353.4,161.1 L353.5,161.6 L353.6,162.0 L353.8,162.5 L353.9,163.0 L354.0,163.4 L354.2,163.9 L354.3,164.3 L354.4,164.8 L354.5,165.3 L354.7,165.7 L354.8,166.2 L354.9,166.6 L355.0,167.1 L355.1,167.6 L355.3,168.0 L355.4,168.5 L355.5,168.9 L355.6,169.4 L355.8,169.9 L355.9,170.3 L356.0,170.8 L356.1,171.2 L356.3,171.7 L356.4,172.2 L356.5,172.6 L356.7,173.1 L356.8,173.5 L356.9,174.0 L357.0,174.5 L357.2,174.9 L357.3,175.4 L357.4,175.8 L357.6,176.3 L357.7,176.8 L357.8,177.2 L358.0,177.7 L358.1,178.1 L358.3,178.6 L358.4,179.0 L358.5,179.5 L358.7,179.9 L358.8,180.4 L359.0,180.8 L359.1,181.3 L359.3,181.7 L359.4,182.2 L359.6,182.6 L359.7,183.1 L359.9,183.5 L360.1,184.0 L360.2,184.4 L360.4,184.9 L360.6,185.3 L360.7,185.7 L360.9,186.2 L361.1,186.6 L361.2,187.1 L361.4,187.5 L361.6,187.9 L361.8,188.4 L362.0,188.8 L362.2,189.2 L362.4,189.7 L362.6,190.1 L362.8,190.5 L363.0,191.0 L363.2,191.4 L363.4,191.8 L363.6,192.2 L363.8,192.7 L364.0,193.1 L364.2,193.5 L364.4,193.9 L364.7,194.3 L364.9,194.7 L365.1,195.2 L365.4,195.6 L365.6,196.0 L365.8,196.4 L366.1,196.8 L366.3,197.2 L366.6,197.6 L366.9,198.0 L367.1,198.4 L367.4,198.8 L367.6,199.2 L367.9,199.6 L368.2,200.0 L368.5,200.3 L368.8,200.7 L369.0,201.1 L369.3,201.5 L369.6,201.9 L369.9,202.2 L370.2,202.6 L370.5,203.0 L370.8,203.3 L371.1,203.7 L371.5,204.0 L371.8,204.4 L372.1,204.7 L372.4,205.1 L372.8,205.4 L373.1,205.8 L373.4,206.1 L373.8,206.4 L374.1,206.8 L374.5,207.1 L374.8,207.4 L375.2,207.7 L375.5,208.0 L375.9,208.3 L376.3,208.6 L376.6,208.9 L377.0,209.2 L377.4,209.5 L377.7,209.7 L378.1,210.0 L378.5,210.3 L378.9,210.5 L379.3,210.8 L379.7,211.1 L380.1,211.3 L380.5,211.5 L380.9,211.8 L381.3,212.0 L381.7,212.2 L382.2,212.4 L382.6,212.6 L383.0,212.9 L383.4,213.0 L383.9,213.2 L384.3,213.4 L384.7,213.6 L385.2,213.8 L385.6,213.9 L386.1,214.1 L386.5,214.2 L387.0,214.4 L387.5,214.5 L387.9,214.7 L388.4,214.8 L388.9,214.9 L389.3,215.0 L389.8,215.1 L390.3,215.2 L390.8,215.3 L391.3,215.3 L391.8,215.4 L392.3,215.5 L392.8,215.5" fill="none" stroke="#2a2a2a" stroke-width="1.25"/>
<path d="M240.8,165.5 L241.3,165.4 L241.8,165.4 L242.2,165.3 L242.7,165.2 L243.2,165.1 L243.7,165.0 L244.2,165.0 L244.7,164.9 L245.2,164.8 L245.7,164.7 L246.2,164.6 L246.7,164.5 L247.2,164.4 L247.7,164.3 L248.2,164.2 L248.7,164.1 L249.2,164.0 L249.7,163.9 L250.2,163.7 L250.7,163.6 L251.2,163.5 L251.8,163.4 L252.3,163.3 L252.8,163.1 L253.3,163.0 L253.8,162.9 L254.3,162.7 L254.8,162.6 L255.3,162.5 L255.8,162.3 L256.3,162.2 L256.8,162.0 L257.3,161.9 L257.8,161.7 L258.3,161.6 L258.8,161.4 L259.3,161.2 L259.8,161.1 L260.3,160.9 L260.8,160.7 L261.3,160.6 L261.8,160.4 L262.2,160.2 L262.7,160.0 L263.2,159.8 L263.7,159.7 L264.2,159.5 L264.7,159.3 L265.2,159.1 L265.6,158.9 L266.1,158.7 L266.6,158.5 L267.1,158.2 L267.5,158.0 L268.0,157.8 L268.5,157.6 L269.0,157.4 L269.4,157.1 L269.9,156.9 L270.3,156.7 L270.8,156.4 L271.3,156.2 L271.7,155.9 L272.2,155.7 L272.6,155.4 L273.0,155.2 L273.5,154.9 L273.9,154.6 L274.4,154.3 L274.8,154.1 L275.2,153.8 L275.6,153.5 L276.1,153.2 L276.5,152.9 L276.9,152.6 L277.3,152.3 L277.7,152.0 L278.1,151.7 L278.5,151.4 L278.9,151.1 L279.3,150.8 L279.7,150.5 L280.1,150.1 L280.5,149.8 L280.9,149.5 L281.3,149.1 L281.6,148.8 L282.0,148.4 L282.4,148.1 L282.8,147.7 L283.1,147.4 L283.5,147.0 L283.8,146.7 L284.2,146.3 L284.6,145.9 L284.9,145.6 L285.3,145.2 L285.6,144.8 L285.9,144.4 L286.3,144.1 L286.6,143.7 L286.9,143.3 L287.3,142.9 L287.6,142.5 L287.9,142.1 L288.3,141.7 L288.6,141.3 L288.9,140.9 L289.2,140.5 L289.5,140.1 L289.8,139.7 L290.1,139.2 L290.4,138.8 L290.7,138.4 L291.0,138.0 L291.3,137.6 L291.6,137.1 L291.9,136.7 L292.2,136.3 L292.5,135.8 L292.8,135.4 L293.1,135.0 L293.4,134.5 L293.6,134.1 L293.9,133.7 L294.2,133.2 L294.5,132.8 L294.7,132.3 L295.0,131.9 L295.3,131.4 L295.5,131.0 L295.8,130.5 L296.1,130.1 L296.3,129.6 L296.6,129.2 L296.8,128.7 L297.1,128.2 L297.3,127.8 L297.6,127.3 L297.8,126.9 L298.1,126.4 L298.3,125.9 L298.6,125.5 L298.8,125.0 L299.0,124.5 L299.3,124.1 L299.5,123.6 L299.7,123.1 L300.0,122.7 L300.2,122.2 L300.4,121.7 L300.7,121.3 L300.9,120.8 L301.1,120.3 L301.3,119.9 L301.6,119.4 L301.8,118.9 L302.0,118.5 L302.2,118.0 L302.4,117.5 L302.7,117.0 L302.9,116.6 L303.1,116.1 L303.3,115.6 L303.5,115.2 L303.7,114.7 L303.9,114.2 L304.1,113.7 L304.3,113.3 L304.5,112.8 L304.8,112.3 L305.0,111.8 L305.2,111.4 L305.4,110.9 L305.6,110.4 L305.8,109.9 L306.0,109.5 L306.2,109.0 L306.4,108.5 L306.6,108.0 L306.8,107.6 L307.0,107.1 L307.2,106.6 L307.4,106.1 L307.6,105.7 L307.7,105.2 L307.9,104.7 L308.1,104.2 L308.3,103.7 L308.5,103.3 L308.7,102.8 L308.9,102.3 L309.1,101.8 L309.3,101.4 L309.5,100.9 L309.7,100.4 L309.9,99.9 L310.1,99.5 L310.3,99.0 L310.5,98.5 L310.7,98.0 L310.9,97.6 L311.0,97.1 L311.2,96.6 L311.4,96.1 L311.6,95.7 L311.8,95.2 L312.0,94.7 L312.2,94.2 L312.4,93.7 L312.6,93.3 L312.8,92.8 L313.0,92.3 L313.2,91.8 L313.4,91.4 L313.6,90.9 L313.8,90.4 L314.0,89.9 L314.2,89.5 L314.4,89.0 L314.6,88.5 L314.8,88.1 L315.0,87.6 L315.2,87.1 L315.4,86.6 L315.6,86.2 L315.8,85.7 L316.0,85.2 L316.2,84.7 L316.4,84.3 L316.6,83.8 L316.9,83.3 L317.1,82.9 L317.3,82.4 L317.5,81.9 L317.7,81.5 L317.9,81.0 L318.1,80.5 L318.3,80.0 L318.6,79.6 L318.8,79.1 L319.0,78.6 L319.2,78.2 L319.4,77.7 L319.6,77.2 L319.9,76.8 L320.1,76.3 L320.3,75.8 L320.5,75.4 L320.7,74.9 L321.0,74.4 L321.2,73.9 L321.4,73.5 L321.6,73.0 L321.8,72.5 L322.1,72.1 L322.3,71.6 L322.5,71.1 L322.7,70.7 L322.9,70.2 L323.2,69.7 L323.4,69.2 L323.6,68.8 L323.8,68.3 L324.0,67.8 L324.2,67.4 L324.5,66.9 L324.7,66.4 L324.9,65.9 L325.1,65.5 L325.3,65.0 L325.5,64.5 L325.8,64.1 L326.0,63.6 L326.2,63.1 L326.4,62.6 L326.6,62.2 L326.8,61.7 L327.0,61.2 L327.2,60.7 L327.4,60.2 L327.6,59.8 L327.9,59.3 L328.1,58.8 L328.3,58.3 L328.5,57.9 L328.7,57.4 L328.9,56.9 L329.1,56.4 L329.3,55.9 L329.5,55.4 L329.7,55.0 L329.9,54.5 L330.1,54.0 L330.2,53.5 L330.4,53.0 L330.6,52.5 L330.8,52.0 L331.0,51.6 L331.2,51.1 L331.4,50.6 L331.6,50.1 L331.7,49.6 L331.9,49.1 L332.1,48.6 L332.3,48.1 L332.5,47.6 L332.7,47.1 L332.9,46.7 L333.0,46.2 L333.2,45.7 L333.5,45.2 L333.7,44.7 L333.9,44.2 L334.1,43.8 L334.3,43.3 L334.6,42.8 L334.8,42.4 L335.1,41.9 L335.4,41.5 L335.7,41.0 L336.0,40.6 L336.3,40.1 L336.6,39.7 L336.9,39.3 L337.2,38.9 L337.6,38.5 L337.9,38.2 L338.3,37.9 L338.7,37.6 L339.0,37.3 L339.4,37.1 L339.8,36.9 L340.2,36.7 L340.5,36.6 L340.9,36.5 L341.3,36.4 L341.7,36.4 L342.1,36.5 L342.5,36.6 L342.9,36.7 L343.2,36.9 L343.6,37.1 L344.0,37.3 L344.4,37.6 L344.7,37.9 L345.1,38.2 L345.4,38.6 L345.8,39.0 L346.1,39.4 L346.4,39.8 L346.7,40.2 L347.0,40.7 L347.3,41.1 L347.6,41.6 L347.8,42.0 L348.1,42.5 L348.3,43.0 L348.5,43.5 L348.8,44.0 L349.0,44.4 L349.1,44.9 L349.3,45.4 L349.5,45.9 L349.6,46.4 L349.8,46.9 L350.0,47.4 L350.1,47.9 L350.2,48.5 L350.4,49.0 L350.5,49.5 L350.6,50.0 L350.8,50.5 L350.9,51.0 L351.0,51.5 L351.1,52.0 L351.3,52.5 L351.4,53.0 L351.5,53.6 L351.6,54.1 L351.8,54.6 L351.9,55.1 L352.0,55.6 L352.2,56.1 L352.3,56.6 L352.4,57.1 L352.5,57.6 L352.7,58.1 L352.8,58.6 L352.9,59.1 L353.0,59.6 L353.2,60.1 L353.3,60.6 L353.4,61.1 L353.5,61.7 L353.7,62.2 L353.8,62.7 L353.9,63.2 L354.0,63.7 L354.2,64.2 L354.3,64.7 L354.4,65.2 L354.5,65.7 L354.7,66.2 L354.8,66.7 L354.9,67.2 L355.0,67.7 L355.1,68.2 L355.3,68.7 L355.4,69.2 L355.5,69.7 L355.6,70.2 L355.8,70.7 L355.9,71.2 L356.0,71.7 L356.1,72.2 L356.3,72.7 L356.4,73.2 L356.5,73.7 L356.6,74.2 L356.8,74.7 L356.9,75.2 L357.0,75.7 L357.1,76.2 L357.3,76.7 L357.4,77.2 L357.5,77.7 L357.6,78.2 L357.8,78.7 L357.9,79.2 L358.0,79.7 L358.2,80.2 L358.3,80.7 L358.4,81.2 L358.5,81.7 L358.7,82.2 L358.8,82.7 L358.9,83.2 L359.0,83.7 L359.2,84.2 L359.3,84.7 L359.4,85.2 L359.6,85.7 L359.7,86.2 L359.8,86.7 L359.9,87.2 L360.1,87.7 L360.2,88.2 L360.3,88.7 L360.5,89.2 L360.6,89.7 L360.7,90.2 L360.9,90.7 L361.0,91.2 L361.1,91.7 L361.3,92.2 L361.4,92.7 L361.5,93.2 L361.7,93.7 L361.8,94.2 L361.9,94.7 L362.1,95.2 L362.2,95.7 L362.3,96.2 L362.5,96.7 L362.6,97.2 L362.7,97.7 L362.9,98.2 L363.0,98.7 L363.2,99.2 L363.3,99.7 L363.4,100.2 L363.6,100.7 L363.7,101.2 L363.9,101.6 L364.0,102.1 L364.1,102.6 L364.3,103.1 L364.4,103.6 L364.6,104.1 L364.7,104.6 L364.9,105.1 L365.0,105.6 L365.1,106.1 L365.3,106.6 L365.4,107.1 L365.6,107.6 L365.7,108.1 L365.9,108.6 L366.0,109.1 L366.2,109.6 L366.3,110.1 L366.5,110.6 L366.6,111.1 L366.8,111.6 L366.9,112.1 L367.1,112.6 L367.3,113.1 L367.4,113.6 L367.6,114.1 L367.7,114.6 L367.9,115.1 L368.0,115.5 L368.2,116.0 L368.4,116.5 L368.5,117.0 L368.7,117.5 L368.9,118.0 L369.0,118.5 L369.2,119.0 L369.4,119.5 L369.5,120.0 L369.7,120.5 L369.9,121.0 L370.0,121.4 L370.2,121.9 L370.4,122.4 L370.5,122.9 L370.7,123.4 L370.9,123.9 L371.1,124.4 L371.2,124.9 L371.4,125.4 L371.6,125.8 L371.8,126.3 L372.0,126.8 L372.1,127.3 L372.3,127.8 L372.5,128.3 L372.7,128.8 L372.9,129.2 L373.1,129.7 L373.3,130.2 L373.4,130.7 L373.6,131.2 L373.8,131.6 L374.0,132.1 L374.2,132.6 L374.4,133.1 L374.6,133.6 L374.8,134.0 L375.0,134.5 L375.2,135.0 L375.5,135.4 L375.7,135.9 L375.9,136.4 L376.1,136.8 L376.3,137.3 L376.6,137.8 L376.8,138.2 L377.0,138.7 L377.2,139.2 L377.5,139.6 L377.7,140.1 L378.0,140.5 L378.2,141.0 L378.5,141.4 L378.7,141.9 L379.0,142.3 L379.2,142.7 L379.5,143.2 L379.7,143.6 L380.0,144.0 L380.3,144.5 L380.6,144.9 L380.9,145.3 L381.1,145.8 L381.4,146.2 L381.7,146.6 L382.0,147.0 L382.3,147.4 L382.6,147.8 L383.0,148.2 L383.3,148.6 L383.6,149.0 L383.9,149.4 L384.3,149.8 L384.6,150.2 L384.9,150.6 L385.3,151.0 L385.6,151.4 L386.0,151.7 L386.4,152.1 L386.7,152.5 L387.1,152.8 L387.5,153.2 L387.9,153.6 L388.3,153.9 L388.7,154.3 L389.1,154.6 L389.5,154.9 L389.9,155.3 L390.3,155.6 L390.8,155.9 L391.2,156.3 L391.6,156.6 L392.1,156.9 L392.5,157.2 L393.0,157.5" fill="none" stroke="#2a2a2a" stroke-width="1.25"/>
<path d="M769.0,271.6 L769.6,271.5 L770.3,271.3 L771.0,271.2 L771.6,271.1 L772.3,271.0 L773.0,270.9 L773.6,270.8 L774.3,270.7 L774.9,270.6 L775.6,270.5 L776.3,270.4 L776.9,270.3 L777.6,270.2 L778.3,270.1 L778.9,270.0 L779.6,269.9 L780.3,269.9 L780.9,269.8 L781.6,269.7 L782.3,269.6 L782.9,269.6 L783.6,269.5 L784.3,269.4 L784.9,269.3 L785.6,269.3 L786.2,269.2 L786.9,269.1 L787.6,269.0 L788.2,269.0 L788.9,268.9 L789.6,268.8 L790.2,268.8 L790.9,268.7 L791.5,268.6 L792.2,268.6 L792.9,268.5 L793.5,268.4 L794.2,268.3 L794.8,268.3 L795.5,268.2 L796.2,268.1 L796.8,268.0 L797.5,268.0 L798.1,267.9 L798.8,267.8 L799.5,267.7 L800.1,267.6 L800.8,267.6 L801.4,267.5 L802.1,267.4 L802.7,267.3 L803.4,267.2 L804.0,267.1 L804.7,267.0 L805.4,266.9 L806.0,266.8 L806.7,266.7 L807.3,266.6 L808.0,266.4 L808.6,266.3 L809.3,266.2 L809.9,266.1 L810.6,265.9 L811.2,265.8 L811.9,265.7 L812.5,265.5 L813.2,265.4 L813.8,265.2 L814.5,265.0 L815.1,264.9 L815.8,264.7 L816.4,264.5 L817.0,264.4 L817.7,264.2 L818.3,264.0 L819.0,263.8 L819.6,263.6 L820.3,263.4 L820.9,263.2 L821.5,263.0 L822.2,262.7 L822.8,262.5 L823.5,262.3 L824.1,262.0 L824.7,261.8 L825.3,261.5 L826.0,261.3 L826.6,261.0 L827.2,260.7 L827.8,260.5 L828.4,260.2 L829.0,259.9 L829.7,259.6 L830.3,259.3 L830.9,259.0 L831.4,258.6 L832.0,258.3 L832.6,258.0 L833.2,257.6 L833.8,257.3 L834.3,256.9 L834.9,256.6 L835.4,256.2 L836.0,255.8 L836.5,255.5 L837.1,255.1 L837.6,254.7 L838.1,254.3 L838.6,253.9 L839.1,253.4 L839.6,253.0 L840.1,252.6 L840.6,252.1 L841.1,251.7 L841.5,251.2 L842.0,250.7 L842.4,250.3 L842.9,249.8 L843.3,249.3 L843.7,248.8 L844.1,248.3 L844.5,247.8 L844.9,247.3 L845.3,246.7 L845.7,246.2 L846.1,245.7 L846.5,245.1 L846.8,244.6 L847.2,244.0 L847.5,243.5 L847.9,242.9 L848.2,242.4 L848.6,241.8 L848.9,241.2 L849.2,240.6 L849.5,240.0 L849.9,239.5 L850.2,238.9 L850.5,238.3 L850.8,237.7 L851.1,237.1 L851.3,236.5 L851.6,235.9 L851.9,235.3 L852.2,234.6 L852.5,234.0 L852.7,233.4 L853.0,232.8 L853.3,232.2 L853.5,231.6 L853.8,230.9 L854.0,230.3 L854.3,229.7 L854.5,229.1 L854.8,228.5 L855.0,227.8 L855.3,227.2 L855.5,226.6 L855.7,225.9 L856.0,225.3 L856.2,224.7 L856.4,224.1 L856.7,223.4 L856.9,222.8 L857.1,222.2 L857.3,221.5 L857.5,220.9 L857.8,220.3 L858.0,219.6 L858.2,219.0 L858.4,218.4 L858.6,217.7 L858.8,217.1 L859.0,216.4 L859.2,215.8 L859.4,215.2 L859.6,214.5 L859.8,213.9 L860.0,213.2 L860.2,212.6 L860.4,212.0 L860.6,211.3 L860.7,210.7 L860.9,210.0 L861.1,209.4 L861.3,208.8 L861.5,208.1 L861.6,207.5 L861.8,206.8 L862.0,206.2 L862.2,205.5 L862.3,204.9 L862.5,204.2 L862.7,203.6 L862.8,202.9 L863.0,202.3 L863.2,201.6 L863.3,201.0 L863.5,200.3 L863.7,199.7 L863.8,199.1 L864.0,198.4 L864.1,197.8 L864.3,197.1 L864.4,196.5 L864.6,195.8 L864.7,195.2 L864.9,194.5 L865.0,193.9 L865.2,193.2 L865.3,192.6 L865.5,191.9 L865.6,191.3 L865.8,190.6 L865.9,190.0 L866.1,189.3 L866.2,188.7 L866.4,188.0 L866.5,187.4 L866.6,186.7 L866.8,186.1 L866.9,185.4 L867.1,184.8 L867.2,184.1 L867.4,183.5 L867.5,182.8 L867.6,182.2 L867.8,181.5 L867.9,180.9 L868.0,180.2 L868.2,179.6 L868.3,178.9 L868.5,178.3 L868.6,177.6 L868.7,177.0 L868.9,176.3 L869.0,175.7 L869.1,175.0 L869.3,174.4 L869.4,173.7 L869.6,173.1 L869.7,172.4 L869.8,171.8 L870.0,171.2 L870.1,170.5 L870.2,169.9 L870.4,169.2 L870.5,168.6 L870.7,167.9 L870.8,167.3 L870.9,166.6 L871.1,166.0 L871.2,165.3 L871.3,164.7 L871.5,164.0 L871.6,163.4 L871.8,162.7 L871.9,162.1 L872.0,161.4 L872.2,160.8 L872.3,160.1 L872.5,159.5 L872.6,158.8 L872.7,158.2 L872.9,157.5 L873.0,156.9 L873.2,156.2 L873.3,155.6 L873.4,154.9 L873.6,154.3 L873.7,153.6 L873.9,153.0 L874.0,152.3 L874.2,151.6 L874.3,151.0 L874.5,150.3 L874.6,149.7 L874.8,149.0 L874.9,148.4 L875.1,147.7 L875.2,147.0 L875.4,146.4 L875.5,145.7 L875.7,145.1 L875.8,144.4 L876.0,143.7 L876.1,143.1 L876.3,142.4 L876.5,141.8 L876.6,141.1 L876.8,140.4 L876.9,139.8 L877.1,139.1 L877.3,138.4 L877.4,137.8 L877.6,137.1 L877.8,136.4 L877.9,135.8 L878.1,135.1 L878.3,134.4 L878.5,133.7 L878.6,133.1 L878.8,132.4 L879.0,131.7 L879.2,131.1 L879.4,130.4 L879.6,129.8 L879.8,129.2 L880.0,128.5 L880.2,128.0 L880.5,127.4 L880.8,126.8 L881.1,126.3 L881.4,125.8 L881.7,125.4 L882.1,124.9 L882.4,124.5 L882.9,124.2 L883.3,123.8 L883.8,123.6 L884.3,123.3 L884.8,123.2 L885.3,123.1 L885.8,123.1 L886.3,123.1 L886.8,123.3 L887.3,123.6 L887.7,124.0 L888.1,124.5 L888.5,125.0 L888.9,125.5 L889.2,126.1 L889.5,126.6 L889.8,127.3 L890.0,127.9 L890.3,128.5 L890.5,129.2 L890.7,129.8 L891.0,130.5 L891.2,131.2 L891.4,131.8 L891.6,132.5 L891.8,133.1 L892.0,133.8 L892.2,134.4 L892.4,135.1 L892.6,135.8 L892.8,136.4 L893.0,137.1 L893.2,137.7 L893.4,138.4 L893.6,139.0 L893.7,139.7 L893.9,140.3 L894.1,141.0 L894.3,141.6 L894.4,142.3 L894.6,142.9 L894.8,143.6 L895.0,144.2 L895.1,144.9 L895.3,145.5 L895.5,146.2 L895.6,146.8 L895.8,147.5 L895.9,148.1 L896.1,148.8 L896.3,149.4 L896.4,150.1 L896.6,150.7 L896.7,151.4 L896.9,152.0 L897.1,152.7 L897.2,153.3 L897.4,154.0 L897.5,154.6 L897.7,155.3 L897.8,155.9 L898.0,156.6 L898.2,157.2 L898.3,157.8 L898.5,158.5 L898.6,159.1 L898.8,159.8 L899.0,160.4 L899.1,161.1 L899.3,161.7 L899.4,162.3 L899.6,163.0 L899.8,163.6 L899.9,164.3 L900.1,164.9 L900.3,165.6 L900.4,166.2 L900.6,166.8 L900.8,167.5 L900.9,168.1 L901.1,168.8 L901.3,169.4 L901.4,170.0 L901.6,170.7 L901.8,171.3 L901.9,172.0 L902.1,172.6 L902.3,173.3 L902.4,173.9 L902.6,174.5 L902.8,175.2 L902.9,175.8 L903.1,176.5 L903.3,177.1 L903.5,177.7 L903.6,178.4 L903.8,179.0 L904.0,179.7 L904.2,180.3 L904.3,180.9 L904.5,181.6 L904.7,182.2 L904.9,182.8 L905.0,183.5 L905.2,184.1 L905.4,184.8 L905.6,185.4 L905.8,186.0 L905.9,186.7 L906.1,187.3 L906.3,188.0 L906.5,188.6 L906.7,189.2 L906.8,189.9 L907.0,190.5 L907.2,191.2 L907.4,191.8 L907.6,192.4 L907.8,193.1 L908.0,193.7 L908.2,194.4 L908.4,195.0 L908.5,195.6 L908.7,196.3 L908.9,196.9 L909.1,197.6 L909.3,198.2 L909.5,198.8 L909.7,199.5 L909.9,200.1 L910.1,200.8 L910.3,201.4 L910.5,202.0 L910.7,202.7 L910.9,203.3 L911.1,204.0 L911.3,204.6 L911.5,205.3 L911.7,205.9 L911.9,206.5 L912.1,207.2 L912.4,207.8 L912.6,208.5 L912.8,209.1 L913.0,209.7 L913.2,210.4 L913.4,211.0 L913.6,211.7 L913.9,212.3 L914.1,212.9 L914.3,213.6 L914.5,214.2 L914.8,214.8 L915.0,215.5 L915.2,216.1 L915.5,216.7 L915.7,217.4 L915.9,218.0 L916.2,218.6 L916.4,219.2 L916.7,219.9 L916.9,220.5 L917.2,221.1 L917.4,221.7 L917.7,222.4 L918.0,223.0 L918.2,223.6 L918.5,224.2 L918.8,224.8 L919.0,225.4 L919.3,226.0 L919.6,226.6 L919.9,227.3 L920.1,227.9 L920.4,228.5 L920.7,229.1 L921.0,229.7 L921.3,230.2 L921.6,230.8 L921.9,231.4 L922.2,232.0 L922.5,232.6 L922.9,233.2 L923.2,233.8 L923.5,234.3 L923.8,234.9 L924.2,235.5 L924.5,236.1 L924.8,236.6 L925.2,237.2 L925.5,237.8 L925.9,238.3 L926.2,238.9 L926.6,239.4 L926.9,240.0 L927.3,240.5 L927.7,241.1 L928.1,241.6 L928.5,242.1 L928.8,242.7 L929.2,243.2 L929.6,243.7 L930.0,244.2 L930.4,244.8 L930.8,245.3 L931.3,245.8 L931.7,246.3 L932.1,246.8 L932.5,247.3 L933.0,247.8 L933.4,248.3 L933.9,248.8 L934.3,249.3 L934.8,249.7 L935.2,250.2 L935.7,250.7 L936.2,251.1 L936.7,251.6 L937.1,252.1 L937.6,252.5 L938.1,253.0 L938.6,253.4 L939.1,253.8 L939.6,254.3 L940.1,254.7 L940.6,255.1 L941.2,255.5 L941.7,255.9 L942.2,256.3 L942.7,256.7 L943.3,257.1 L943.8,257.5 L944.4,257.9 L944.9,258.3 L945.5,258.6 L946.0,259.0 L946.6,259.4 L947.1,259.7 L947.7,260.1 L948.3,260.4 L948.9,260.7 L949.4,261.0 L950.0,261.4 L950.6,261.7 L951.2,262.0 L951.8,262.3 L952.4,262.6 L953.0,262.8 L953.6,263.1 L954.2,263.4 L954.8,263.6 L955.4,263.9 L956.1,264.1 L956.7,264.4 L957.3,264.6 L957.9,264.8 L958.6,265.0 L959.2,265.2 L959.8,265.4 L960.5,265.6 L961.1,265.8 L961.8,266.0 L962.4,266.1 L963.1,266.3 L963.7,266.4 L964.4,266.6 L965.0,266.7 L965.7,266.8 L966.4,266.9 L967.0,267.0 L967.7,267.1 L968.4,267.2 L969.1,267.3 L969.7,267.3 L970.4,267.4 L971.1,267.4 L971.8,267.5 L972.5,267.5 L973.2,267.5 L973.9,267.5 L974.5,267.5 L975.2,267.5" fill="none" stroke="#2a2a2a" stroke-width="1.25"/>
<path d="M769.1,223.1 L769.7,223.0 L770.4,223.0 L771.0,222.9 L771.7,222.9 L772.3,222.8 L773.0,222.7 L773.7,222.7 L774.3,222.6 L775.0,222.6 L775.6,222.5 L776.3,222.5 L777.0,222.4 L777.6,222.4 L778.3,222.3 L778.9,222.3 L779.6,222.2 L780.3,222.2 L780.9,222.2 L781.6,222.1 L782.3,222.1 L782.9,222.0 L783.6,222.0 L784.3,221.9 L784.9,221.9 L785.6,221.8 L786.3,221.8 L786.9,221.8 L787.6,221.7 L788.3,221.7 L788.9,221.6 L789.6,221.6 L790.3,221.5 L790.9,221.5 L791.6,221.4 L792.3,221.4 L792.9,221.3 L793.6,221.2 L794.3,221.2 L794.9,221.1 L795.6,221.1 L796.3,221.0 L796.9,220.9 L797.6,220.9 L798.3,220.8 L798.9,220.7 L799.6,220.6 L800.2,220.6 L800.9,220.5 L801.6,220.4 L802.2,220.3 L802.9,220.2 L803.5,220.1 L804.2,220.0 L804.9,219.9 L805.5,219.8 L806.2,219.7 L806.8,219.6 L807.5,219.5 L808.1,219.4 L808.8,219.3 L809.4,219.1 L810.1,219.0 L810.7,218.9 L811.4,218.7 L812.0,218.6 L812.7,218.4 L813.3,218.3 L814.0,218.1 L814.6,218.0 L815.3,217.8 L815.9,217.6 L816.6,217.5 L817.2,217.3 L817.8,217.1 L818.5,216.9 L819.1,216.7 L819.7,216.5 L820.4,216.3 L821.0,216.1 L821.6,215.8 L822.3,215.6 L822.9,215.4 L823.5,215.1 L824.1,214.9 L824.8,214.6 L825.4,214.4 L826.0,214.1 L826.6,213.8 L827.2,213.6 L827.8,213.3 L828.4,213.0 L829.0,212.7 L829.6,212.4 L830.2,212.1 L830.8,211.8 L831.4,211.4 L831.9,211.1 L832.5,210.8 L833.1,210.4 L833.6,210.1 L834.2,209.7 L834.7,209.3 L835.3,209.0 L835.8,208.6 L836.4,208.2 L836.9,207.8 L837.4,207.4 L837.9,207.0 L838.4,206.6 L838.9,206.1 L839.4,205.7 L839.9,205.3 L840.4,204.8 L840.9,204.4 L841.3,203.9 L841.8,203.4 L842.2,203.0 L842.7,202.5 L843.1,202.0 L843.6,201.5 L844.0,201.0 L844.4,200.5 L844.8,200.0 L845.2,199.4 L845.6,198.9 L846.0,198.4 L846.4,197.8 L846.7,197.3 L847.1,196.7 L847.5,196.2 L847.8,195.6 L848.2,195.0 L848.5,194.5 L848.9,193.9 L849.2,193.3 L849.6,192.7 L849.9,192.1 L850.2,191.6 L850.5,191.0 L850.8,190.4 L851.2,189.8 L851.5,189.2 L851.8,188.6 L852.1,188.0 L852.3,187.4 L852.6,186.7 L852.9,186.1 L853.2,185.5 L853.5,184.9 L853.8,184.3 L854.0,183.7 L854.3,183.1 L854.6,182.4 L854.8,181.8 L855.1,181.2 L855.3,180.6 L855.6,180.0 L855.8,179.3 L856.1,178.7 L856.3,178.1 L856.6,177.5 L856.8,176.8 L857.0,176.2 L857.3,175.6 L857.5,175.0 L857.7,174.3 L858.0,173.7 L858.2,173.1 L858.4,172.5 L858.6,171.8 L858.8,171.2 L859.0,170.6 L859.3,169.9 L859.5,169.3 L859.7,168.7 L859.9,168.0 L860.1,167.4 L860.3,166.8 L860.5,166.1 L860.7,165.5 L860.9,164.9 L861.0,164.2 L861.2,163.6 L861.4,163.0 L861.6,162.3 L861.8,161.7 L862.0,161.0 L862.1,160.4 L862.3,159.8 L862.5,159.1 L862.7,158.5 L862.8,157.8 L863.0,157.2 L863.2,156.6 L863.3,155.9 L863.5,155.3 L863.6,154.6 L863.8,154.0 L864.0,153.4 L864.1,152.7 L864.3,152.1 L864.4,151.4 L864.6,150.8 L864.7,150.1 L864.9,149.5 L865.0,148.8 L865.2,148.2 L865.3,147.5 L865.5,146.9 L865.6,146.2 L865.8,145.6 L865.9,144.9 L866.0,144.3 L866.2,143.6 L866.3,143.0 L866.4,142.3 L866.6,141.7 L866.7,141.0 L866.8,140.4 L867.0,139.7 L867.1,139.1 L867.2,138.4 L867.4,137.8 L867.5,137.1 L867.6,136.5 L867.8,135.8 L867.9,135.2 L868.0,134.5 L868.1,133.9 L868.3,133.2 L868.4,132.6 L868.5,131.9 L868.6,131.3 L868.8,130.6 L868.9,130.0 L869.0,129.3 L869.1,128.6 L869.2,128.0 L869.4,127.3 L869.5,126.7 L869.6,126.0 L869.7,125.4 L869.9,124.7 L870.0,124.1 L870.1,123.4 L870.2,122.7 L870.3,122.1 L870.5,121.4 L870.6,120.8 L870.7,120.1 L870.8,119.5 L870.9,118.8 L871.1,118.2 L871.2,117.5 L871.3,116.8 L871.4,116.2 L871.6,115.5 L871.7,114.9 L871.8,114.2 L871.9,113.6 L872.0,112.9 L872.2,112.2 L872.3,111.6 L872.4,110.9 L872.5,110.3 L872.7,109.6 L872.8,109.0 L872.9,108.3 L873.1,107.6 L873.2,107.0 L873.3,106.3 L873.5,105.7 L873.6,105.0 L873.7,104.4 L873.9,103.7 L874.0,103.1 L874.1,102.4 L874.3,101.7 L874.4,101.1 L874.5,100.4 L874.7,99.8 L874.8,99.1 L875.0,98.5 L875.1,97.8 L875.2,97.2 L875.4,96.5 L875.5,95.8 L875.7,95.2 L875.8,94.5 L876.0,93.9 L876.1,93.2 L876.3,92.6 L876.5,91.9 L876.6,91.3 L876.8,90.6 L876.9,90.0 L877.1,89.3 L877.3,88.7 L877.4,88.0 L877.6,87.4 L877.8,86.7 L877.9,86.1 L878.1,85.4 L878.3,84.8 L878.5,84.1 L878.7,83.5 L878.9,82.8 L879.1,82.2 L879.3,81.6 L879.5,81.0 L879.8,80.4 L880.0,79.8 L880.3,79.2 L880.6,78.7 L881.0,78.2 L881.3,77.6 L881.7,77.2 L882.1,76.7 L882.5,76.2 L883.0,75.8 L883.5,75.4 L884.0,75.1 L884.5,75.0 L885.0,74.9 L885.5,75.1 L886.0,75.5 L886.5,75.9 L886.9,76.5 L887.3,77.0 L887.7,77.6 L888.0,78.2 L888.4,78.7 L888.6,79.4 L888.9,80.0 L889.2,80.6 L889.4,81.2 L889.7,81.8 L889.9,82.5 L890.1,83.1 L890.4,83.7 L890.6,84.4 L890.8,85.0 L891.0,85.6 L891.2,86.3 L891.5,86.9 L891.7,87.5 L891.9,88.2 L892.1,88.8 L892.3,89.5 L892.5,90.1 L892.7,90.7 L892.9,91.4 L893.1,92.0 L893.2,92.7 L893.4,93.3 L893.6,94.0 L893.8,94.6 L894.0,95.3 L894.2,95.9 L894.3,96.6 L894.5,97.2 L894.7,97.8 L894.9,98.5 L895.0,99.1 L895.2,99.8 L895.4,100.4 L895.6,101.1 L895.7,101.7 L895.9,102.4 L896.1,103.0 L896.2,103.7 L896.4,104.3 L896.6,105.0 L896.7,105.6 L896.9,106.3 L897.0,106.9 L897.2,107.6 L897.4,108.2 L897.5,108.9 L897.7,109.5 L897.9,110.1 L898.0,110.8 L898.2,111.4 L898.3,112.1 L898.5,112.7 L898.7,113.4 L898.8,114.0 L899.0,114.7 L899.1,115.3 L899.3,116.0 L899.5,116.6 L899.6,117.2 L899.8,117.9 L900.0,118.5 L900.1,119.2 L900.3,119.8 L900.4,120.5 L900.6,121.1 L900.8,121.7 L900.9,122.4 L901.1,123.0 L901.3,123.7 L901.4,124.3 L901.6,124.9 L901.7,125.6 L901.9,126.2 L902.1,126.9 L902.2,127.5 L902.4,128.1 L902.6,128.8 L902.7,129.4 L902.9,130.1 L903.1,130.7 L903.2,131.4 L903.4,132.0 L903.6,132.6 L903.7,133.3 L903.9,133.9 L904.1,134.6 L904.3,135.2 L904.4,135.8 L904.6,136.5 L904.8,137.1 L904.9,137.7 L905.1,138.4 L905.3,139.0 L905.5,139.7 L905.7,140.3 L905.8,140.9 L906.0,141.6 L906.2,142.2 L906.4,142.9 L906.6,143.5 L906.7,144.1 L906.9,144.8 L907.1,145.4 L907.3,146.1 L907.5,146.7 L907.7,147.3 L907.9,148.0 L908.0,148.6 L908.2,149.3 L908.4,149.9 L908.6,150.5 L908.8,151.2 L909.0,151.8 L909.2,152.4 L909.4,153.1 L909.6,153.7 L909.8,154.4 L910.0,155.0 L910.2,155.6 L910.4,156.3 L910.6,156.9 L910.8,157.6 L911.0,158.2 L911.3,158.8 L911.5,159.5 L911.7,160.1 L911.9,160.8 L912.1,161.4 L912.3,162.0 L912.6,162.7 L912.8,163.3 L913.0,163.9 L913.2,164.6 L913.5,165.2 L913.7,165.8 L913.9,166.5 L914.2,167.1 L914.4,167.7 L914.7,168.4 L914.9,169.0 L915.2,169.6 L915.4,170.2 L915.7,170.9 L915.9,171.5 L916.2,172.1 L916.4,172.7 L916.7,173.3 L917.0,174.0 L917.2,174.6 L917.5,175.2 L917.8,175.8 L918.0,176.4 L918.3,177.0 L918.6,177.6 L918.9,178.2 L919.2,178.8 L919.5,179.4 L919.8,180.0 L920.1,180.6 L920.4,181.2 L920.7,181.8 L921.0,182.4 L921.3,183.0 L921.6,183.6 L921.9,184.1 L922.3,184.7 L922.6,185.3 L922.9,185.9 L923.3,186.4 L923.6,187.0 L923.9,187.6 L924.3,188.1 L924.6,188.7 L925.0,189.3 L925.3,189.8 L925.7,190.4 L926.1,190.9 L926.4,191.5 L926.8,192.0 L927.2,192.5 L927.6,193.1 L928.0,193.6 L928.4,194.1 L928.8,194.7 L929.2,195.2 L929.6,195.7 L930.0,196.2 L930.4,196.7 L930.8,197.2 L931.2,197.7 L931.7,198.2 L932.1,198.7 L932.5,199.2 L933.0,199.7 L933.4,200.2 L933.9,200.7 L934.3,201.2 L934.8,201.6 L935.3,202.1 L935.8,202.6 L936.2,203.0 L936.7,203.5 L937.2,203.9 L937.7,204.4 L938.2,204.8 L938.7,205.2 L939.2,205.7 L939.7,206.1 L940.2,206.5 L940.7,206.9 L941.3,207.3 L941.8,207.7 L942.3,208.1 L942.8,208.5 L943.4,208.9 L943.9,209.3 L944.5,209.7 L945.0,210.1 L945.6,210.4 L946.1,210.8 L946.7,211.1 L947.2,211.5 L947.8,211.8 L948.4,212.2 L949.0,212.5 L949.5,212.8 L950.1,213.1 L950.7,213.4 L951.3,213.8 L951.9,214.1 L952.5,214.3 L953.1,214.6 L953.7,214.9 L954.3,215.2 L954.9,215.4 L955.5,215.7 L956.1,216.0 L956.8,216.2 L957.4,216.4 L958.0,216.7 L958.6,216.9 L959.3,217.1 L959.9,217.3 L960.5,217.5 L961.2,217.7 L961.8,217.9 L962.5,218.1 L963.1,218.2 L963.8,218.4 L964.4,218.6 L965.1,218.7 L965.7,218.8 L966.4,219.0 L967.1,219.1 L967.7,219.2 L968.4,219.3 L969.1,219.4 L969.7,219.5 L970.4,219.6 L971.1,219.6 L971.8,219.7 L972.4,219.8 L973.1,219.8 L973.8,219.9 L974.5,219.9 L975.2,219.9" fill="none" stroke="#2a2a2a" stroke-width="1.25"/>
<path d="M769.3,179.6 L769.9,179.5 L770.5,179.5 L771.1,179.5 L771.7,179.4 L772.3,179.4 L772.9,179.3 L773.5,179.3 L774.2,179.2 L774.8,179.2 L775.4,179.1 L776.0,179.1 L776.6,179.0 L777.3,179.0 L777.9,178.9 L778.5,178.8 L779.2,178.7 L779.8,178.7 L780.4,178.6 L781.1,178.5 L781.7,178.4 L782.3,178.3 L783.0,178.3 L783.6,178.2 L784.3,178.1 L784.9,178.0 L785.5,177.9 L786.2,177.8 L786.8,177.6 L787.5,177.5 L788.1,177.4 L788.7,177.3 L789.4,177.2 L790.0,177.0 L790.7,176.9 L791.3,176.8 L792.0,176.6 L792.6,176.5 L793.2,176.3 L793.9,176.2 L794.5,176.0 L795.2,175.9 L795.8,175.7 L796.4,175.5 L797.1,175.3 L797.7,175.2 L798.3,175.0 L799.0,174.8 L799.6,174.6 L800.2,174.4 L800.8,174.2 L801.5,174.0 L802.1,173.8 L802.7,173.6 L803.3,173.4 L803.9,173.1 L804.6,172.9 L805.2,172.7 L805.8,172.4 L806.4,172.2 L807.0,171.9 L807.6,171.7 L808.2,171.4 L808.8,171.1 L809.3,170.9 L809.9,170.6 L810.5,170.3 L811.1,170.0 L811.7,169.7 L812.2,169.4 L812.8,169.1 L813.4,168.8 L813.9,168.5 L814.5,168.2 L815.0,167.8 L815.6,167.5 L816.1,167.2 L816.6,166.8 L817.2,166.5 L817.7,166.1 L818.2,165.7 L818.7,165.4 L819.2,165.0 L819.7,164.6 L820.2,164.2 L820.7,163.8 L821.2,163.4 L821.7,163.0 L822.2,162.6 L822.7,162.2 L823.1,161.8 L823.6,161.4 L824.1,160.9 L824.5,160.5 L825.0,160.1 L825.4,159.6 L825.9,159.2 L826.3,158.7 L826.8,158.3 L827.2,157.8 L827.6,157.3 L828.1,156.8 L828.5,156.4 L828.9,155.9 L829.3,155.4 L829.7,154.9 L830.1,154.4 L830.5,153.9 L830.9,153.4 L831.3,152.9 L831.7,152.4 L832.1,151.9 L832.5,151.4 L832.8,150.8 L833.2,150.3 L833.6,149.8 L833.9,149.3 L834.3,148.7 L834.7,148.2 L835.0,147.6 L835.4,147.1 L835.7,146.6 L836.0,146.0 L836.4,145.4 L836.7,144.9 L837.0,144.3 L837.4,143.8 L837.7,143.2 L838.0,142.6 L838.3,142.1 L838.6,141.5 L839.0,140.9 L839.3,140.3 L839.6,139.8 L839.9,139.2 L840.2,138.6 L840.4,138.0 L840.7,137.4 L841.0,136.8 L841.3,136.3 L841.6,135.7 L841.9,135.1 L842.1,134.5 L842.4,133.9 L842.7,133.3 L842.9,132.7 L843.2,132.1 L843.5,131.5 L843.7,130.9 L844.0,130.3 L844.2,129.7 L844.5,129.1 L844.7,128.5 L844.9,127.9 L845.2,127.3 L845.4,126.6 L845.6,126.0 L845.9,125.4 L846.1,124.8 L846.3,124.2 L846.5,123.6 L846.8,123.0 L847.0,122.4 L847.2,121.8 L847.4,121.2 L847.6,120.5 L847.8,119.9 L848.0,119.3 L848.2,118.7 L848.4,118.1 L848.6,117.5 L848.8,116.9 L849.0,116.2 L849.2,115.6 L849.4,115.0 L849.6,114.4 L849.8,113.8 L850.0,113.2 L850.1,112.5 L850.3,111.9 L850.5,111.3 L850.7,110.7 L850.9,110.1 L851.1,109.4 L851.2,108.8 L851.4,108.2 L851.6,107.6 L851.8,107.0 L851.9,106.3 L852.1,105.7 L852.3,105.1 L852.5,104.5 L852.6,103.9 L852.8,103.2 L853.0,102.6 L853.1,102.0 L853.3,101.4 L853.5,100.8 L853.6,100.1 L853.8,99.5 L854.0,98.9 L854.1,98.3 L854.3,97.7 L854.5,97.0 L854.6,96.4 L854.8,95.8 L855.0,95.2 L855.1,94.6 L855.3,93.9 L855.5,93.3 L855.7,92.7 L855.8,92.1 L856.0,91.5 L856.2,90.8 L856.3,90.2 L856.5,89.6 L856.7,89.0 L856.9,88.4 L857.0,87.7 L857.2,87.1 L857.4,86.5 L857.6,85.9 L857.7,85.3 L857.9,84.7 L858.1,84.0 L858.3,83.4 L858.5,82.8 L858.6,82.2 L858.8,81.6 L859.0,81.0 L859.2,80.4 L859.4,79.7 L859.6,79.1 L859.8,78.5 L860.0,77.9 L860.2,77.3 L860.4,76.7 L860.5,76.1 L860.7,75.4 L860.9,74.8 L861.1,74.2 L861.3,73.6 L861.5,73.0 L861.7,72.4 L861.9,71.8 L862.1,71.1 L862.3,70.5 L862.5,69.9 L862.7,69.3 L862.9,68.7 L863.1,68.1 L863.2,67.4 L863.4,66.8 L863.6,66.2 L863.8,65.6 L864.0,64.9 L864.2,64.3 L864.3,63.7 L864.5,63.0 L864.7,62.4 L864.9,61.8 L865.0,61.1 L865.2,60.5 L865.4,59.9 L865.5,59.2 L865.7,58.6 L865.8,57.9 L866.0,57.3 L866.1,56.6 L866.3,56.0 L866.4,55.4 L866.6,54.7 L866.7,54.1 L866.9,53.4 L867.1,52.8 L867.2,52.1 L867.4,51.5 L867.5,50.8 L867.7,50.2 L867.9,49.6 L868.1,49.0 L868.2,48.3 L868.4,47.7 L868.6,47.1 L868.8,46.5 L869.1,45.9 L869.3,45.3 L869.5,44.7 L869.8,44.1 L870.0,43.5 L870.3,42.9 L870.5,42.4 L870.8,41.8 L871.1,41.3 L871.4,40.7 L871.8,40.2 L872.1,39.7 L872.5,39.2 L872.8,38.7 L873.2,38.2 L873.6,37.7 L874.0,37.2 L874.5,36.8 L874.9,36.3 L875.4,35.9 L875.9,35.5 L876.3,35.2 L876.8,34.9 L877.3,34.6 L877.8,34.5 L878.4,34.4 L878.9,34.4 L879.4,34.5 L879.8,34.7 L880.3,35.0 L880.8,35.3 L881.3,35.7 L881.7,36.2 L882.1,36.7 L882.5,37.2 L882.9,37.7 L883.3,38.3 L883.7,38.9 L884.0,39.4 L884.3,40.0 L884.6,40.6 L884.9,41.2 L885.2,41.7 L885.5,42.3 L885.7,42.9 L886.0,43.5 L886.2,44.2 L886.5,44.8 L886.7,45.4 L886.9,46.0 L887.1,46.6 L887.3,47.2 L887.5,47.9 L887.7,48.5 L887.9,49.1 L888.1,49.7 L888.3,50.4 L888.5,51.0 L888.7,51.6 L888.9,52.2 L889.1,52.9 L889.3,53.5 L889.5,54.1 L889.6,54.7 L889.8,55.4 L890.0,56.0 L890.2,56.6 L890.4,57.2 L890.6,57.9 L890.8,58.5 L891.0,59.1 L891.1,59.7 L891.3,60.3 L891.5,61.0 L891.7,61.6 L891.9,62.2 L892.1,62.8 L892.3,63.5 L892.4,64.1 L892.6,64.7 L892.8,65.3 L893.0,66.0 L893.2,66.6 L893.3,67.2 L893.5,67.8 L893.7,68.5 L893.9,69.1 L894.0,69.7 L894.2,70.3 L894.4,70.9 L894.6,71.6 L894.7,72.2 L894.9,72.8 L895.1,73.4 L895.3,74.1 L895.4,74.7 L895.6,75.3 L895.8,75.9 L895.9,76.5 L896.1,77.2 L896.3,77.8 L896.4,78.4 L896.6,79.0 L896.8,79.6 L896.9,80.3 L897.1,80.9 L897.3,81.5 L897.4,82.1 L897.6,82.7 L897.8,83.4 L898.0,84.0 L898.1,84.6 L898.3,85.2 L898.5,85.8 L898.6,86.5 L898.8,87.1 L899.0,87.7 L899.1,88.3 L899.3,88.9 L899.5,89.6 L899.6,90.2 L899.8,90.8 L900.0,91.4 L900.1,92.0 L900.3,92.7 L900.5,93.3 L900.6,93.9 L900.8,94.5 L901.0,95.1 L901.1,95.7 L901.3,96.4 L901.5,97.0 L901.7,97.6 L901.8,98.2 L902.0,98.8 L902.2,99.4 L902.4,100.1 L902.5,100.7 L902.7,101.3 L902.9,101.9 L903.1,102.5 L903.3,103.2 L903.4,103.8 L903.6,104.4 L903.8,105.0 L904.0,105.6 L904.2,106.2 L904.4,106.9 L904.5,107.5 L904.7,108.1 L904.9,108.7 L905.1,109.3 L905.3,109.9 L905.5,110.6 L905.7,111.2 L905.9,111.8 L906.1,112.4 L906.3,113.0 L906.5,113.6 L906.7,114.3 L906.9,114.9 L907.1,115.5 L907.3,116.1 L907.5,116.7 L907.7,117.3 L907.9,117.9 L908.1,118.6 L908.3,119.2 L908.6,119.8 L908.8,120.4 L909.0,121.0 L909.2,121.6 L909.4,122.3 L909.7,122.9 L909.9,123.5 L910.1,124.1 L910.4,124.7 L910.6,125.3 L910.8,125.9 L911.1,126.6 L911.3,127.2 L911.5,127.8 L911.8,128.4 L912.0,129.0 L912.3,129.6 L912.5,130.2 L912.8,130.8 L913.1,131.4 L913.3,132.0 L913.6,132.6 L913.8,133.2 L914.1,133.8 L914.4,134.4 L914.7,135.0 L914.9,135.6 L915.2,136.2 L915.5,136.8 L915.8,137.3 L916.1,137.9 L916.4,138.5 L916.7,139.1 L917.0,139.7 L917.3,140.2 L917.6,140.8 L917.9,141.4 L918.2,141.9 L918.5,142.5 L918.8,143.1 L919.1,143.6 L919.5,144.2 L919.8,144.7 L920.1,145.3 L920.5,145.8 L920.8,146.4 L921.1,146.9 L921.5,147.5 L921.9,148.0 L922.2,148.5 L922.6,149.1 L922.9,149.6 L923.3,150.1 L923.7,150.6 L924.1,151.1 L924.4,151.7 L924.8,152.2 L925.2,152.7 L925.6,153.2 L926.0,153.7 L926.4,154.2 L926.8,154.6 L927.2,155.1 L927.6,155.6 L928.1,156.1 L928.5,156.6 L928.9,157.0 L929.4,157.5 L929.8,157.9 L930.2,158.4 L930.7,158.8 L931.2,159.3 L931.6,159.7 L932.1,160.2 L932.5,160.6 L933.0,161.0 L933.5,161.4 L934.0,161.8 L934.5,162.3 L935.0,162.7 L935.5,163.1 L936.0,163.5 L936.5,163.8 L937.0,164.2 L937.5,164.6 L938.0,165.0 L938.6,165.4 L939.1,165.7 L939.6,166.1 L940.2,166.4 L940.7,166.8 L941.3,167.1 L941.8,167.5 L942.4,167.8 L942.9,168.1 L943.5,168.4 L944.0,168.8 L944.6,169.1 L945.2,169.4 L945.8,169.7 L946.3,170.0 L946.9,170.2 L947.5,170.5 L948.1,170.8 L948.7,171.1 L949.3,171.3 L949.9,171.6 L950.5,171.9 L951.1,172.1 L951.7,172.3 L952.3,172.6 L952.9,172.8 L953.5,173.0 L954.1,173.3 L954.7,173.5 L955.3,173.7 L956.0,173.9 L956.6,174.1 L957.2,174.3 L957.8,174.4 L958.4,174.6 L959.1,174.8 L959.7,174.9 L960.3,175.1 L961.0,175.3 L961.6,175.4 L962.2,175.5 L962.9,175.7 L963.5,175.8 L964.1,175.9 L964.8,176.0 L965.4,176.1 L966.0,176.2 L966.7,176.3 L967.3,176.4 L968.0,176.5 L968.6,176.6 L969.3,176.6 L969.9,176.7 L970.5,176.8 L971.2,176.8 L971.8,176.8 L972.5,176.9 L973.1,176.9 L973.8,176.9 L974.4,176.9 L975.0,177.0" fill="none" stroke="#2a2a2a" stroke-width="1.25"/>
<path d="M239.9,295.5 V301.4" stroke="#222" stroke-width="1.4"/>
<text x="239.9" y="310.9" text-anchor="middle" font-size="7.8" fill="#222" stroke="#222" stroke-width="0.35" textLength="18.6" lengthAdjust="spacingAndGlyphs" font-family="Liberation Sans, sans-serif">1740</text>
<path d="M270.3,295.5 V301.4" stroke="#222" stroke-width="1.4"/>
<text x="270.3" y="310.9" text-anchor="middle" font-size="7.8" fill="#222" stroke="#222" stroke-width="0.35" textLength="18.6" lengthAdjust="spacingAndGlyphs" font-family="Liberation Sans, sans-serif">1730</text>
<path d="M301.4,295.5 V301.4" stroke="#222" stroke-width="1.4"/>
<text x="301.4" y="310.9" text-anchor="middle" font-size="7.8" fill="#222" stroke="#222" stroke-width="0.35" textLength="18.6" lengthAdjust="spacingAndGlyphs" font-family="Liberation Sans, sans-serif">1720</text>
<path d="M332.6,295.5 V301.4" stroke="#222" stroke-width="1.4"/>
<text x="332.6" y="310.9" text-anchor="middle" font-size="7.8" fill="#222" stroke="#222" stroke-width="0.35" textLength="18.6" lengthAdjust="spacingAndGlyphs" font-family="Liberation Sans, sans-serif">1710</text>
<path d="M363.3,295.5 V301.4" stroke="#222" stroke-width="1.4"/>
<text x="363.3" y="310.9" text-anchor="middle" font-size="7.8" fill="#222" stroke="#222" stroke-width="0.35" textLength="18.6" lengthAdjust="spacingAndGlyphs" font-family="Liberation Sans, sans-serif">1700</text>
<path d="M393.1,295.5 V301.4" stroke="#222" stroke-width="1.4"/>
<text x="393.1" y="310.9" text-anchor="middle" font-size="7.8" fill="#222" stroke="#222" stroke-width="0.35" textLength="18.6" lengthAdjust="spacingAndGlyphs" font-family="Liberation Sans, sans-serif">1690</text>
<path d="M785.3,294.3 V300.3" stroke="#222" stroke-width="1.4"/>
<text x="785.3" y="311.1" text-anchor="middle" font-size="7.8" fill="#222" stroke="#222" stroke-width="0.35" textLength="13.8" lengthAdjust="spacingAndGlyphs" font-family="Liberation Sans, sans-serif">815</text>
<path d="M821.3,294.3 V300.3" stroke="#222" stroke-width="1.4"/>
<text x="821.3" y="311.1" text-anchor="middle" font-size="7.8" fill="#222" stroke="#222" stroke-width="0.35" textLength="13.8" lengthAdjust="spacingAndGlyphs" font-family="Liberation Sans, sans-serif">805</text>
<path d="M857.2,294.3 V300.3" stroke="#222" stroke-width="1.4"/>
<text x="857.2" y="311.1" text-anchor="middle" font-size="7.8" fill="#222" stroke="#222" stroke-width="0.35" textLength="13.8" lengthAdjust="spacingAndGlyphs" font-family="Liberation Sans, sans-serif">795</text>
<path d="M892,294.3 V300.3" stroke="#222" stroke-width="1.4"/>
<text x="892" y="311.1" text-anchor="middle" font-size="7.8" fill="#222" stroke="#222" stroke-width="0.35" textLength="13.8" lengthAdjust="spacingAndGlyphs" font-family="Liberation Sans, sans-serif">785</text>
<path d="M927.5,294.3 V300.3" stroke="#222" stroke-width="1.4"/>
<text x="927.5" y="311.1" text-anchor="middle" font-size="7.8" fill="#222" stroke="#222" stroke-width="0.35" textLength="13.8" lengthAdjust="spacingAndGlyphs" font-family="Liberation Sans, sans-serif">775</text>
<path d="M962.8,294.3 V300.3" stroke="#222" stroke-width="1.4"/>
<text x="962.8" y="311.1" text-anchor="middle" font-size="7.8" fill="#222" stroke="#222" stroke-width="0.35" textLength="13.8" lengthAdjust="spacingAndGlyphs" font-family="Liberation Sans, sans-serif">765</text>
<text x="253.3" y="150.5" text-anchor="middle" font-size="14.3" fill="#222" stroke="#222" stroke-width="0.25" textLength="22.5" lengthAdjust="spacingAndGlyphs" font-family="Liberation Sans, sans-serif">(iii)</text>
<text x="251.4" y="200.3" text-anchor="middle" font-size="14.3" fill="#222" stroke="#222" stroke-width="0.25" textLength="19.5" lengthAdjust="spacingAndGlyphs" font-family="Liberation Sans, sans-serif">(ii)</text>
<text x="249.4" y="238.6" text-anchor="middle" font-size="14.3" fill="#222" stroke="#222" stroke-width="0.25" textLength="15.7" lengthAdjust="spacingAndGlyphs" font-family="Liberation Sans, sans-serif">(i)</text>
<text x="784.5" y="165.4" text-anchor="middle" font-size="14.3" fill="#222" stroke="#222" stroke-width="0.25" textLength="23.3" lengthAdjust="spacingAndGlyphs" font-family="Liberation Sans, sans-serif">(iii)</text>
<text x="782.9" y="213.4" text-anchor="middle" font-size="14.3" fill="#222" stroke="#222" stroke-width="0.25" textLength="19.5" lengthAdjust="spacingAndGlyphs" font-family="Liberation Sans, sans-serif">(ii)</text>
<text x="780.9" y="261.1" text-anchor="middle" font-size="14.3" fill="#222" stroke="#222" stroke-width="0.25" textLength="15.7" lengthAdjust="spacingAndGlyphs" font-family="Liberation Sans, sans-serif">(i)</text>
</svg>
</body></html>
